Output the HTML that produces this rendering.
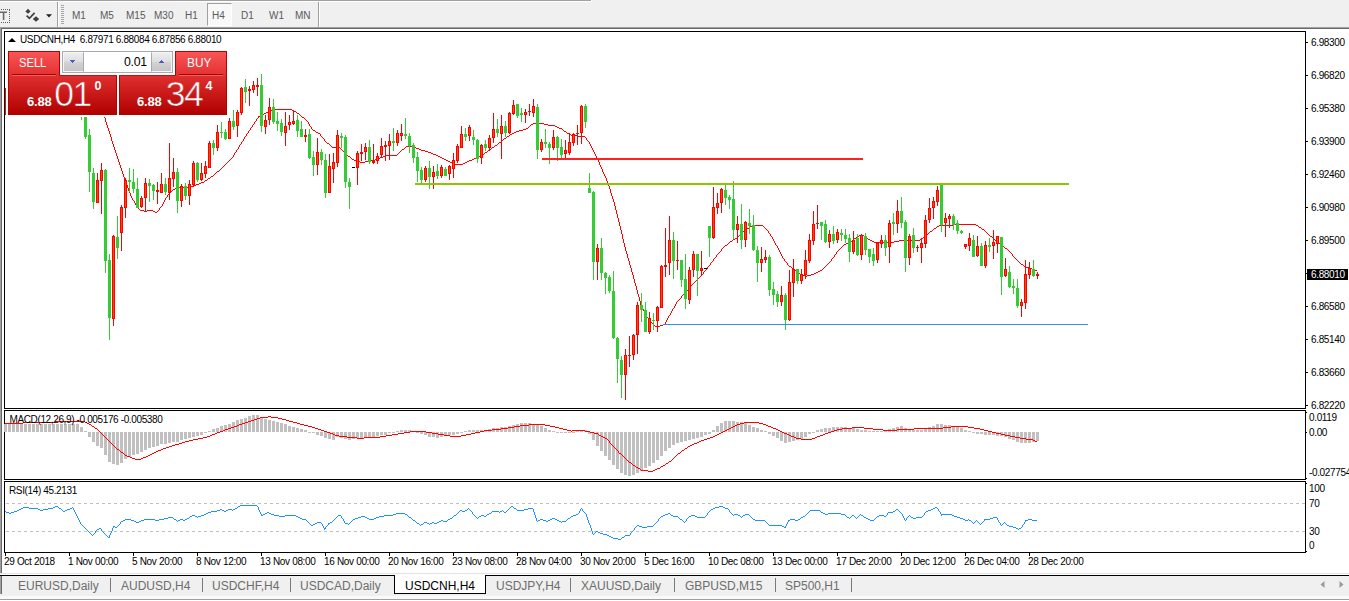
<!DOCTYPE html>
<html><head><meta charset="utf-8"><title>USDCNH,H4</title>
<style>
html,body{margin:0;padding:0;background:#fff;}
body{width:1349px;height:601px;position:relative;overflow:hidden;font-family:"Liberation Sans",sans-serif;}
div{position:absolute;box-sizing:border-box;}
.tf{top:9px;font-size:10px;color:#5a5a5a;line-height:13px;}
.yl{left:1311px;font-size:10px;line-height:12px;color:#000;white-space:nowrap;letter-spacing:-0.35px}
.yl2{left:1309px;font-size:10px;line-height:12px;color:#000;white-space:nowrap;letter-spacing:-0.35px}
.tk{left:1306px;width:2px;height:1px;background:#000}
.tk.s{width:1px}
.dt{top:553px;width:1px;height:3px;background:#000}
.dlab{top:556px;font-size:10px;line-height:12px;color:#000;white-space:nowrap;letter-spacing:-0.33px}
.tab{top:579px;font-size:12px;line-height:14px;color:#6d6d6d;white-space:nowrap}
.tsep{top:578px;width:1px;height:14px;background:#7a7a7a}
.lab{font-size:10px;line-height:12px;color:#000;white-space:nowrap;letter-spacing:-0.37px}
</style></head><body>
<!-- toolbar -->
<div style="left:0;top:0;width:1349px;height:27px;background:#f0f0f0"></div>
<div style="left:0;top:0;width:592px;height:2px;background:#fff"></div>
<div style="left:0;top:0;width:591px;height:1px;background:#a0a0a0"></div>
<div style="left:0;top:27px;width:1349px;height:1px;background:#a0a0a0"></div>
<div style="left:0;top:28px;width:1349px;height:1px;background:#696969"></div>
<div style="left:0;top:28px;width:1px;height:545px;background:#a0a0a0"></div>
<div style="left:1px;top:29px;width:1px;height:544px;background:#696969"></div>
<!-- toolbar icons -->
<div style="left:-1px;top:9px;width:11px;height:14px;border:1px dotted #606060"></div>
<svg style="position:absolute;left:0;top:11px" width="8" height="10" viewBox="0 0 8 10"><path d="M0 0.5H7V2H4.4V9H2.8V2H0Z" fill="#686868"/></svg>
<svg style="position:absolute;left:24px;top:8px" width="30" height="16" viewBox="0 0 30 16">
<path d="M4 0.8 L6.6 3.4 L4 5.8 L1.4 3.4Z" fill="#404040"/><path d="M12 8.2 L15.2 11 L12 13.8 L8.8 11Z" fill="#404040"/>
<path d="M2.6 7.6 L5.4 10.4 L10.6 4.8" fill="none" stroke="#404040" stroke-width="1.7"/>
<path d="M22 6.3 L28 6.3 L25 9.6Z" fill="#202020"/></svg>
<div style="left:57px;top:2px;width:1px;height:25px;background:#a0a0a0"></div>
<div style="left:58px;top:2px;width:1px;height:25px;background:#fff"></div>
<div style="left:61px;top:5px;width:3px;height:20px;background:repeating-linear-gradient(#a8a8a8 0 1px,#f0f0f0 1px 2px)"></div>
<div style="left:207px;top:3px;width:25px;height:23px;background:#f8f8f8;border:1px solid #a0a0a0;border-right-color:#fff;border-bottom-color:#fff"></div>
<div class="tf" style="left:72px">M1</div><div class="tf" style="left:100px">M5</div><div class="tf" style="left:126px">M15</div><div class="tf" style="left:154px">M30</div><div class="tf" style="left:185px">H1</div><div class="tf" style="left:212px">H4</div><div class="tf" style="left:241px">D1</div><div class="tf" style="left:269px">W1</div><div class="tf" style="left:295px">MN</div>
<div style="left:318px;top:2px;width:1px;height:25px;background:#a0a0a0"></div>
<div style="left:319px;top:2px;width:1px;height:25px;background:#fff"></div>

<!-- chart frames -->
<div style="left:4px;top:31px;width:1302px;height:378px;border:1px solid #000"></div>
<div style="left:4px;top:410px;width:1302px;height:70px;border:1px solid #000"></div>
<div style="left:4px;top:481px;width:1302px;height:72px;border:1px solid #000"></div>

<svg style="position:absolute;left:0;top:0" width="1349" height="601" viewBox="0 0 1349 601" shape-rendering="crispEdges">
<g shape-rendering="crispEdges"><path d="M104 117h1v1h-1zM105 118h1v4h-1zM106 122h1v3h-1zM107 125h1v3h-1zM108 128h1v3h-1zM109 131h1v3h-1zM110 134h1v3h-1zM111 137h1v4h-1zM112 141h1v3h-1zM113 144h1v3h-1zM114 147h1v3h-1zM115 150h1v3h-1zM116 153h1v3h-1zM117 156h1v3h-1zM118 159h1v3h-1zM119 162h1v3h-1zM120 165h1v3h-1zM121 168h1v3h-1zM122 171h1v3h-1zM123 174h1v3h-1zM124 177h1v3h-1zM125 180h1v2h-1zM126 182h1v3h-1zM127 185h1v3h-1zM128 188h1v3h-1zM129 191h1v2h-1zM130 193h1v3h-1zM131 196h1v2h-1zM132 198h1v2h-1zM133 200h1v1h-1zM134 201h1v2h-1zM135 203h1v2h-1zM136 205h1v2h-1zM137 207h1v1h-1zM138 208h1v1h-1zM139 209h1v1h-1zM140 210h4v1h-4zM144 211h3v1h-3zM147 210h6v1h-6zM153 211h2v1h-2zM155 212h2v1h-2zM157 211h1v1h-1zM158 210h1v1h-1zM159 208h1v2h-1zM160 207h1v1h-1zM161 206h1v1h-1zM162 204h1v2h-1zM163 202h1v2h-1zM164 200h1v2h-1zM165 198h1v2h-1zM166 197h1v1h-1zM167 195h1v2h-1zM168 194h1v1h-1zM169 193h1v1h-1zM170 192h1v1h-1zM171 191h1v1h-1zM172 190h1v1h-1zM173 189h2v1h-2zM175 188h3v1h-3zM178 187h13v1h-13zM191 186h3v1h-3zM194 185h2v1h-2zM196 184h3v1h-3zM199 183h2v1h-2zM201 182h3v1h-3zM204 181h1v1h-1zM205 180h2v1h-2zM207 179h1v1h-1zM208 178h2v1h-2zM210 177h1v1h-1zM211 176h2v1h-2zM213 175h1v1h-1zM214 174h1v1h-1zM215 173h1v1h-1zM216 172h1v1h-1zM217 171h2v1h-2zM219 170h1v1h-1zM220 169h1v1h-1zM221 168h1v1h-1zM222 167h1v1h-1zM223 166h1v1h-1zM224 165h1v1h-1zM225 164h1v1h-1zM226 163h1v1h-1zM227 162h1v1h-1zM228 161h1v1h-1zM229 160h1v1h-1zM230 159h1v1h-1zM231 158h1v1h-1zM232 157h1v1h-1zM233 155h1v2h-1zM234 153h1v2h-1zM235 152h1v1h-1zM236 150h1v2h-1zM237 149h1v1h-1zM238 147h1v2h-1zM239 145h1v2h-1zM240 144h1v1h-1zM241 142h1v2h-1zM242 141h1v1h-1zM243 139h1v2h-1zM244 137h1v2h-1zM245 136h1v1h-1zM246 134h1v2h-1zM247 133h1v1h-1zM248 131h1v2h-1zM249 130h1v1h-1zM250 128h1v2h-1zM251 127h1v1h-1zM252 125h1v2h-1zM253 124h1v1h-1zM254 122h1v2h-1zM255 121h1v1h-1zM256 119h1v2h-1zM257 118h1v1h-1zM258 116h1v2h-1zM259 116h1v1h-1zM260 115h2v1h-2zM262 114h2v1h-2zM264 113h2v1h-2zM266 112h3v1h-3zM269 111h2v1h-2zM271 110h2v1h-2zM273 109h19v1h-19zM292 110h2v1h-2zM294 111h2v1h-2zM296 112h1v1h-1zM297 113h2v1h-2zM299 114h1v1h-1zM300 115h1v1h-1zM301 116h1v1h-1zM302 117h2v1h-2zM304 118h1v1h-1zM305 119h1v1h-1zM306 120h1v1h-1zM307 121h1v1h-1zM308 122h1v2h-1zM309 124h1v2h-1zM310 126h1v1h-1zM311 127h1v2h-1zM312 129h1v1h-1zM313 130h2v1h-2zM315 131h1v1h-1zM316 132h2v1h-2zM318 133h2v1h-2zM320 134h1v2h-1zM321 136h1v1h-1zM322 137h1v1h-1zM323 138h1v1h-1zM324 139h1v2h-1zM325 141h1v1h-1zM326 142h1v1h-1zM327 143h2v1h-2zM329 144h1v1h-1zM330 145h1v1h-1zM331 146h1v1h-1zM332 147h8v1h-8zM340 148h1v1h-1zM341 149h1v1h-1zM342 150h1v1h-1zM343 151h1v1h-1zM344 152h1v1h-1zM345 153h1v1h-1zM346 154h1v1h-1zM347 155h1v1h-1zM348 156h2v1h-2zM350 157h1v1h-1zM351 158h1v1h-1zM352 159h2v1h-2zM354 160h3v1h-3zM357 161h3v1h-3zM360 162h5v1h-5zM365 161h6v1h-6zM371 160h4v1h-4zM375 159h3v1h-3zM378 158h2v1h-2zM380 157h3v1h-3zM383 156h3v1h-3zM386 155h11v1h-11zM397 154h1v1h-1zM398 153h1v1h-1zM399 152h1v1h-1zM400 151h1v1h-1zM401 150h1v1h-1zM402 149h2v1h-2zM404 148h1v1h-1zM405 147h1v1h-1zM406 146h7v1h-7zM413 147h3v1h-3zM416 148h3v1h-3zM419 149h2v1h-2zM421 150h4v1h-4zM425 151h3v1h-3zM428 152h3v1h-3zM431 153h2v1h-2zM433 154h3v1h-3zM436 155h2v1h-2zM438 156h2v1h-2zM440 157h2v1h-2zM442 158h2v1h-2zM444 159h2v1h-2zM446 160h2v1h-2zM448 161h2v1h-2zM450 162h3v1h-3zM453 163h2v1h-2zM455 164h8v1h-8zM463 163h2v1h-2zM465 162h2v1h-2zM467 161h2v1h-2zM469 160h3v1h-3zM472 159h2v1h-2zM474 158h3v1h-3zM477 157h2v1h-2zM479 156h1v1h-1zM480 155h2v1h-2zM482 154h2v1h-2zM484 153h1v1h-1zM485 152h2v1h-2zM487 151h1v1h-1zM488 150h2v1h-2zM490 149h1v1h-1zM491 148h1v1h-1zM492 147h2v1h-2zM494 146h1v1h-1zM495 145h2v1h-2zM497 144h1v1h-1zM498 143h1v1h-1zM499 142h2v1h-2zM501 141h1v1h-1zM502 140h1v1h-1zM503 139h1v1h-1zM504 138h2v1h-2zM506 137h1v1h-1zM507 136h2v1h-2zM509 135h1v1h-1zM510 134h2v1h-2zM512 133h2v1h-2zM514 132h2v1h-2zM516 131h3v1h-3zM519 130h4v1h-4zM523 129h3v1h-3zM526 128h2v1h-2zM528 127h1v1h-1zM529 126h1v1h-1zM530 125h1v1h-1zM531 124h2v1h-2zM533 123h11v1h-11zM544 124h4v1h-4zM548 125h7v1h-7zM555 126h2v1h-2zM557 127h2v1h-2zM559 128h3v1h-3zM562 129h1v1h-1zM563 130h1v1h-1zM564 131h2v1h-2zM566 132h1v1h-1zM567 133h2v1h-2zM569 134h2v1h-2zM571 135h6v1h-6zM577 136h8v1h-8zM585 137h1v1h-1zM586 138h1v2h-1zM587 140h1v1h-1zM588 141h1v1h-1zM589 142h1v2h-1zM590 144h1v2h-1zM591 146h1v2h-1zM592 148h1v2h-1zM593 150h1v2h-1zM594 152h1v2h-1zM595 154h1v2h-1zM596 156h1v2h-1zM597 158h1v2h-1zM598 160h1v2h-1zM599 162h1v3h-1zM600 165h1v2h-1zM601 167h1v2h-1zM602 169h1v3h-1zM603 172h1v2h-1zM604 174h1v2h-1zM605 176h1v2h-1zM606 178h1v3h-1zM607 181h1v2h-1zM608 183h1v3h-1zM609 186h1v3h-1zM610 189h1v4h-1zM611 193h1v3h-1zM612 196h1v3h-1zM613 199h1v3h-1zM614 202h1v4h-1zM615 206h1v4h-1zM616 210h1v4h-1zM617 214h1v4h-1zM618 218h1v4h-1zM619 222h1v4h-1zM620 226h1v4h-1zM621 230h1v4h-1zM622 234h1v5h-1zM623 239h1v4h-1zM624 243h1v4h-1zM625 247h1v4h-1zM626 251h1v3h-1zM627 254h1v4h-1zM628 258h1v3h-1zM629 261h1v4h-1zM630 265h1v3h-1zM631 268h1v4h-1zM632 272h1v3h-1zM633 275h1v4h-1zM634 279h1v4h-1zM635 283h1v3h-1zM636 286h1v4h-1zM637 290h1v4h-1zM638 294h1v3h-1zM639 297h1v4h-1zM640 301h1v4h-1zM641 305h1v3h-1zM642 308h1v1h-1zM643 309h1v2h-1zM644 311h1v2h-1zM645 313h1v2h-1zM646 315h1v2h-1zM647 317h1v1h-1zM648 318h1v2h-1zM649 320h1v1h-1zM650 321h1v1h-1zM651 322h1v1h-1zM652 323h1v1h-1zM653 324h1v1h-1zM654 325h1v1h-1zM655 326h5v1h-5zM660 325h3v1h-3zM663 324h2v1h-2zM665 322h1v2h-1zM666 320h1v2h-1zM667 318h1v2h-1zM668 316h1v2h-1zM669 315h1v1h-1zM670 313h1v2h-1zM671 311h1v2h-1zM672 309h1v2h-1zM673 308h1v1h-1zM674 306h1v2h-1zM675 304h1v2h-1zM676 302h1v2h-1zM677 301h1v1h-1zM678 300h1v1h-1zM679 299h1v1h-1zM680 298h1v1h-1zM681 296h1v2h-1zM682 295h1v1h-1zM683 294h1v1h-1zM684 293h1v1h-1zM685 292h1v1h-1zM686 291h1v1h-1zM687 290h1v1h-1zM688 288h1v2h-1zM689 287h1v1h-1zM690 286h1v1h-1zM691 285h1v1h-1zM692 284h1v1h-1zM693 283h1v1h-1zM694 282h1v1h-1zM695 281h1v1h-1zM696 280h1v1h-1zM697 279h1v1h-1zM698 278h1v1h-1zM699 277h1v1h-1zM700 276h1v1h-1zM701 275h1v1h-1zM702 274h1v1h-1zM703 272h1v2h-1zM704 271h1v1h-1zM705 270h1v1h-1zM706 269h1v1h-1zM707 267h1v2h-1zM708 266h1v1h-1zM709 265h1v1h-1zM710 263h1v2h-1zM711 262h1v1h-1zM712 261h1v1h-1zM713 259h1v2h-1zM714 258h1v1h-1zM715 257h1v1h-1zM716 255h1v2h-1zM717 254h1v1h-1zM718 253h1v1h-1zM719 252h1v1h-1zM720 251h1v1h-1zM721 249h1v2h-1zM722 248h1v1h-1zM723 247h1v1h-1zM724 246h1v1h-1zM725 245h2v1h-2zM727 244h1v1h-1zM728 243h1v1h-1zM729 242h1v1h-1zM730 241h2v1h-2zM732 240h1v1h-1zM733 239h2v1h-2zM735 238h2v1h-2zM737 237h1v1h-1zM738 236h1v1h-1zM739 235h1v1h-1zM740 234h1v1h-1zM741 233h1v1h-1zM742 232h1v1h-1zM743 231h1v1h-1zM744 230h2v1h-2zM746 229h1v1h-1zM747 228h2v1h-2zM749 227h1v1h-1zM750 226h2v1h-2zM752 225h11v1h-11zM763 226h1v1h-1zM764 227h1v1h-1zM765 228h1v1h-1zM766 229h1v1h-1zM767 230h1v1h-1zM768 231h1v2h-1zM769 233h1v1h-1zM770 234h1v2h-1zM771 236h1v1h-1zM772 237h1v2h-1zM773 239h1v2h-1zM774 241h1v2h-1zM775 243h1v2h-1zM776 245h1v1h-1zM777 246h1v2h-1zM778 248h1v2h-1zM779 250h1v2h-1zM780 252h1v2h-1zM781 254h1v2h-1zM782 256h1v2h-1zM783 258h1v1h-1zM784 259h1v2h-1zM785 261h1v1h-1zM786 262h1v1h-1zM787 263h1v2h-1zM788 265h1v1h-1zM789 266h2v1h-2zM791 267h1v1h-1zM792 268h2v1h-2zM794 269h1v1h-1zM795 270h1v1h-1zM796 271h2v1h-2zM798 272h1v1h-1zM799 273h1v1h-1zM800 274h2v1h-2zM802 275h4v1h-4zM806 276h1v1h-1zM807 275h4v1h-4zM811 274h3v1h-3zM814 273h2v1h-2zM816 272h2v1h-2zM818 271h2v1h-2zM820 270h2v1h-2zM822 269h1v1h-1zM823 268h1v1h-1zM824 267h1v1h-1zM825 266h1v1h-1zM826 265h1v1h-1zM827 264h1v1h-1zM828 263h1v1h-1zM829 262h1v1h-1zM830 261h1v1h-1zM831 259h1v2h-1zM832 258h1v1h-1zM833 257h1v1h-1zM834 255h1v2h-1zM835 254h1v1h-1zM836 252h1v2h-1zM837 251h1v1h-1zM838 250h1v1h-1zM839 249h1v1h-1zM840 248h1v1h-1zM841 247h1v1h-1zM842 246h1v1h-1zM843 245h1v1h-1zM844 244h2v1h-2zM846 243h2v1h-2zM848 242h2v1h-2zM850 241h2v1h-2zM852 240h1v1h-1zM853 239h1v1h-1zM854 238h2v1h-2zM856 237h1v1h-1zM857 236h2v1h-2zM859 235h2v1h-2zM861 234h1v1h-1zM862 235h2v1h-2zM864 236h1v1h-1zM865 237h2v1h-2zM867 238h1v1h-1zM868 239h2v1h-2zM870 240h2v1h-2zM872 241h2v1h-2zM874 242h20v1h-20zM894 241h5v1h-5zM899 240h21v1h-21zM920 239h1v1h-1zM921 238h2v1h-2zM923 237h2v1h-2zM925 236h1v1h-1zM926 235h1v1h-1zM927 234h1v1h-1zM928 233h1v1h-1zM929 232h1v1h-1zM930 231h2v1h-2zM932 230h1v1h-1zM933 229h1v1h-1zM934 228h2v1h-2zM936 227h1v1h-1zM937 226h2v1h-2zM939 225h14v1h-14zM953 224h23v1h-23zM976 225h2v1h-2zM978 226h1v1h-1zM979 227h2v1h-2zM981 228h1v1h-1zM982 229h2v1h-2zM984 230h1v1h-1zM985 231h1v1h-1zM986 232h1v1h-1zM987 233h1v1h-1zM988 234h1v1h-1zM989 235h1v1h-1zM990 236h2v1h-2zM992 237h1v1h-1zM993 238h1v1h-1zM994 239h1v1h-1zM995 240h1v1h-1zM996 241h2v1h-2zM998 242h1v1h-1zM999 243h2v1h-2zM1001 244h1v1h-1zM1002 245h1v1h-1zM1003 246h1v1h-1zM1004 247h1v1h-1zM1005 248h2v1h-2zM1007 249h1v1h-1zM1008 250h1v1h-1zM1009 251h1v1h-1zM1010 252h1v1h-1zM1011 253h1v1h-1zM1012 254h1v2h-1zM1013 256h1v1h-1zM1014 257h1v1h-1zM1015 258h1v1h-1zM1016 259h1v1h-1zM1017 260h1v1h-1zM1018 261h1v1h-1zM1019 262h1v1h-1zM1020 263h1v1h-1zM1021 264h2v1h-2zM1023 265h1v1h-1zM1024 266h2v1h-2zM1026 267h3v1h-3zM1029 268h3v1h-3zM1032 269h3v1h-3zM1035 270h2v1h-2z" fill="#ff0000"/></g>
<rect x="81" y="100" width="1" height="20" fill="#32cd32"/>
<rect x="80" y="100" width="3" height="10" fill="#32cd32"/>
<rect x="85" y="100" width="1" height="39" fill="#32cd32"/>
<rect x="84" y="100" width="3" height="37" fill="#32cd32"/>
<rect x="89" y="129" width="1" height="63" fill="#32cd32"/>
<rect x="88" y="135" width="3" height="37" fill="#32cd32"/>
<rect x="93" y="168" width="1" height="41" fill="#32cd32"/>
<rect x="92" y="173" width="3" height="29" fill="#32cd32"/>
<rect x="97" y="173" width="1" height="30" fill="#ff0000"/>
<rect x="96" y="180" width="3" height="23" fill="#ff0000"/>
<rect x="97" y="181" width="1" height="21" fill="#ff4500"/>
<rect x="101" y="163" width="1" height="51" fill="#ff0000"/>
<rect x="100" y="170" width="3" height="11" fill="#ff0000"/>
<rect x="101" y="171" width="1" height="9" fill="#ff4500"/>
<rect x="105" y="169" width="1" height="104" fill="#32cd32"/>
<rect x="104" y="170" width="3" height="91" fill="#32cd32"/>
<rect x="109" y="254" width="1" height="86" fill="#32cd32"/>
<rect x="108" y="260" width="3" height="58" fill="#32cd32"/>
<rect x="113" y="235" width="1" height="91" fill="#ff0000"/>
<rect x="112" y="236" width="3" height="83" fill="#ff0000"/>
<rect x="113" y="237" width="1" height="81" fill="#ff4500"/>
<rect x="117" y="216" width="1" height="43" fill="#32cd32"/>
<rect x="116" y="237" width="3" height="11" fill="#32cd32"/>
<rect x="121" y="205" width="1" height="46" fill="#ff0000"/>
<rect x="120" y="207" width="3" height="26" fill="#ff0000"/>
<rect x="121" y="208" width="1" height="24" fill="#ff4500"/>
<rect x="125" y="178" width="1" height="40" fill="#ff0000"/>
<rect x="124" y="180" width="3" height="28" fill="#ff0000"/>
<rect x="125" y="181" width="1" height="26" fill="#ff4500"/>
<rect x="129" y="168" width="1" height="24" fill="#32cd32"/>
<rect x="128" y="180" width="3" height="2" fill="#32cd32"/>
<rect x="133" y="169" width="1" height="24" fill="#32cd32"/>
<rect x="132" y="182" width="3" height="7" fill="#32cd32"/>
<rect x="137" y="178" width="1" height="30" fill="#32cd32"/>
<rect x="136" y="189" width="3" height="19" fill="#32cd32"/>
<rect x="141" y="196" width="1" height="12" fill="#ff0000"/>
<rect x="140" y="198" width="3" height="9" fill="#ff0000"/>
<rect x="141" y="199" width="1" height="7" fill="#ff4500"/>
<rect x="145" y="178" width="1" height="34" fill="#ff0000"/>
<rect x="144" y="183" width="3" height="15" fill="#ff0000"/>
<rect x="145" y="184" width="1" height="13" fill="#ff4500"/>
<rect x="149" y="179" width="1" height="23" fill="#32cd32"/>
<rect x="148" y="183" width="3" height="3" fill="#32cd32"/>
<rect x="153" y="184" width="1" height="16" fill="#32cd32"/>
<rect x="152" y="185" width="3" height="6" fill="#32cd32"/>
<rect x="157" y="182" width="1" height="22" fill="#ff0000"/>
<rect x="156" y="190" width="3" height="2" fill="#ff0000"/>
<rect x="161" y="173" width="1" height="20" fill="#ff0000"/>
<rect x="160" y="184" width="3" height="9" fill="#ff0000"/>
<rect x="161" y="185" width="1" height="7" fill="#ff4500"/>
<rect x="165" y="178" width="1" height="17" fill="#32cd32"/>
<rect x="164" y="184" width="3" height="8" fill="#32cd32"/>
<rect x="169" y="143" width="1" height="57" fill="#ff0000"/>
<rect x="168" y="178" width="3" height="15" fill="#ff0000"/>
<rect x="169" y="179" width="1" height="13" fill="#ff4500"/>
<rect x="173" y="158" width="1" height="29" fill="#ff0000"/>
<rect x="172" y="172" width="3" height="7" fill="#ff0000"/>
<rect x="173" y="173" width="1" height="5" fill="#ff4500"/>
<rect x="177" y="168" width="1" height="45" fill="#32cd32"/>
<rect x="176" y="172" width="3" height="29" fill="#32cd32"/>
<rect x="181" y="184" width="1" height="23" fill="#ff0000"/>
<rect x="180" y="186" width="3" height="15" fill="#ff0000"/>
<rect x="181" y="187" width="1" height="13" fill="#ff4500"/>
<rect x="185" y="183" width="1" height="17" fill="#32cd32"/>
<rect x="184" y="186" width="3" height="10" fill="#32cd32"/>
<rect x="189" y="180" width="1" height="25" fill="#ff0000"/>
<rect x="188" y="184" width="3" height="12" fill="#ff0000"/>
<rect x="189" y="185" width="1" height="10" fill="#ff4500"/>
<rect x="193" y="161" width="1" height="26" fill="#ff0000"/>
<rect x="192" y="163" width="3" height="22" fill="#ff0000"/>
<rect x="193" y="164" width="1" height="20" fill="#ff4500"/>
<rect x="197" y="162" width="1" height="20" fill="#32cd32"/>
<rect x="196" y="163" width="3" height="17" fill="#32cd32"/>
<rect x="201" y="163" width="1" height="18" fill="#ff0000"/>
<rect x="200" y="173" width="3" height="7" fill="#ff0000"/>
<rect x="201" y="174" width="1" height="5" fill="#ff4500"/>
<rect x="205" y="161" width="1" height="17" fill="#ff0000"/>
<rect x="204" y="166" width="3" height="8" fill="#ff0000"/>
<rect x="205" y="167" width="1" height="6" fill="#ff4500"/>
<rect x="209" y="141" width="1" height="27" fill="#ff0000"/>
<rect x="208" y="143" width="3" height="25" fill="#ff0000"/>
<rect x="209" y="144" width="1" height="23" fill="#ff4500"/>
<rect x="213" y="140" width="1" height="15" fill="#32cd32"/>
<rect x="212" y="143" width="3" height="5" fill="#32cd32"/>
<rect x="217" y="125" width="1" height="26" fill="#ff0000"/>
<rect x="216" y="132" width="3" height="16" fill="#ff0000"/>
<rect x="217" y="133" width="1" height="14" fill="#ff4500"/>
<rect x="221" y="122" width="1" height="16" fill="#32cd32"/>
<rect x="220" y="132" width="3" height="1" fill="#32cd32"/>
<rect x="225" y="129" width="1" height="11" fill="#32cd32"/>
<rect x="224" y="132" width="3" height="7" fill="#32cd32"/>
<rect x="229" y="118" width="1" height="21" fill="#ff0000"/>
<rect x="228" y="121" width="3" height="18" fill="#ff0000"/>
<rect x="229" y="122" width="1" height="16" fill="#ff4500"/>
<rect x="233" y="110" width="1" height="20" fill="#32cd32"/>
<rect x="232" y="121" width="3" height="6" fill="#32cd32"/>
<rect x="237" y="110" width="1" height="27" fill="#ff0000"/>
<rect x="236" y="112" width="3" height="14" fill="#ff0000"/>
<rect x="237" y="113" width="1" height="12" fill="#ff4500"/>
<rect x="241" y="87" width="1" height="28" fill="#ff0000"/>
<rect x="240" y="88" width="3" height="25" fill="#ff0000"/>
<rect x="241" y="89" width="1" height="23" fill="#ff4500"/>
<rect x="245" y="79" width="1" height="24" fill="#32cd32"/>
<rect x="244" y="87" width="3" height="5" fill="#32cd32"/>
<rect x="249" y="86" width="1" height="20" fill="#ff0000"/>
<rect x="248" y="89" width="3" height="2" fill="#ff0000"/>
<rect x="253" y="81" width="1" height="12" fill="#ff0000"/>
<rect x="252" y="85" width="3" height="5" fill="#ff0000"/>
<rect x="253" y="86" width="1" height="3" fill="#ff4500"/>
<rect x="257" y="78" width="1" height="18" fill="#ff0000"/>
<rect x="256" y="85" width="3" height="2" fill="#ff0000"/>
<rect x="261" y="74" width="1" height="58" fill="#32cd32"/>
<rect x="260" y="85" width="3" height="41" fill="#32cd32"/>
<rect x="265" y="115" width="1" height="19" fill="#ff0000"/>
<rect x="264" y="120" width="3" height="7" fill="#ff0000"/>
<rect x="265" y="121" width="1" height="5" fill="#ff4500"/>
<rect x="269" y="98" width="1" height="27" fill="#ff0000"/>
<rect x="268" y="107" width="3" height="13" fill="#ff0000"/>
<rect x="269" y="108" width="1" height="11" fill="#ff4500"/>
<rect x="273" y="99" width="1" height="25" fill="#32cd32"/>
<rect x="272" y="107" width="3" height="15" fill="#32cd32"/>
<rect x="277" y="112" width="1" height="19" fill="#32cd32"/>
<rect x="276" y="121" width="3" height="3" fill="#32cd32"/>
<rect x="281" y="119" width="1" height="17" fill="#32cd32"/>
<rect x="280" y="123" width="3" height="9" fill="#32cd32"/>
<rect x="285" y="112" width="1" height="34" fill="#ff0000"/>
<rect x="284" y="126" width="3" height="7" fill="#ff0000"/>
<rect x="285" y="127" width="1" height="5" fill="#ff4500"/>
<rect x="289" y="115" width="1" height="15" fill="#ff0000"/>
<rect x="288" y="122" width="3" height="3" fill="#ff0000"/>
<rect x="289" y="123" width="1" height="1" fill="#ff4500"/>
<rect x="293" y="110" width="1" height="15" fill="#ff0000"/>
<rect x="292" y="121" width="3" height="3" fill="#ff0000"/>
<rect x="293" y="122" width="1" height="1" fill="#ff4500"/>
<rect x="297" y="115" width="1" height="22" fill="#32cd32"/>
<rect x="296" y="120" width="3" height="11" fill="#32cd32"/>
<rect x="301" y="121" width="1" height="16" fill="#32cd32"/>
<rect x="300" y="129" width="3" height="8" fill="#32cd32"/>
<rect x="305" y="129" width="1" height="13" fill="#ff0000"/>
<rect x="304" y="135" width="3" height="2" fill="#ff0000"/>
<rect x="309" y="129" width="1" height="30" fill="#32cd32"/>
<rect x="308" y="134" width="3" height="24" fill="#32cd32"/>
<rect x="313" y="151" width="1" height="25" fill="#32cd32"/>
<rect x="312" y="157" width="3" height="8" fill="#32cd32"/>
<rect x="317" y="138" width="1" height="37" fill="#ff0000"/>
<rect x="316" y="152" width="3" height="13" fill="#ff0000"/>
<rect x="317" y="153" width="1" height="11" fill="#ff4500"/>
<rect x="321" y="149" width="1" height="16" fill="#32cd32"/>
<rect x="320" y="152" width="3" height="8" fill="#32cd32"/>
<rect x="325" y="154" width="1" height="44" fill="#32cd32"/>
<rect x="324" y="160" width="3" height="33" fill="#32cd32"/>
<rect x="329" y="154" width="1" height="39" fill="#ff0000"/>
<rect x="328" y="166" width="3" height="27" fill="#ff0000"/>
<rect x="329" y="167" width="1" height="25" fill="#ff4500"/>
<rect x="333" y="153" width="1" height="30" fill="#ff0000"/>
<rect x="332" y="162" width="3" height="7" fill="#ff0000"/>
<rect x="333" y="163" width="1" height="5" fill="#ff4500"/>
<rect x="337" y="130" width="1" height="37" fill="#ff0000"/>
<rect x="336" y="135" width="3" height="28" fill="#ff0000"/>
<rect x="337" y="136" width="1" height="26" fill="#ff4500"/>
<rect x="341" y="133" width="1" height="15" fill="#32cd32"/>
<rect x="340" y="136" width="3" height="2" fill="#32cd32"/>
<rect x="345" y="135" width="1" height="53" fill="#32cd32"/>
<rect x="344" y="137" width="3" height="45" fill="#32cd32"/>
<rect x="349" y="178" width="1" height="31" fill="#32cd32"/>
<rect x="348" y="182" width="3" height="5" fill="#32cd32"/>
<rect x="352" y="167" width="3" height="1" fill="#000"/>
<rect x="357" y="151" width="1" height="34" fill="#ff0000"/>
<rect x="356" y="153" width="3" height="15" fill="#ff0000"/>
<rect x="357" y="154" width="1" height="13" fill="#ff4500"/>
<rect x="361" y="144" width="1" height="17" fill="#ff0000"/>
<rect x="360" y="152" width="3" height="2" fill="#ff0000"/>
<rect x="365" y="143" width="1" height="17" fill="#ff0000"/>
<rect x="364" y="147" width="3" height="5" fill="#ff0000"/>
<rect x="365" y="148" width="1" height="3" fill="#ff4500"/>
<rect x="369" y="140" width="1" height="24" fill="#32cd32"/>
<rect x="368" y="147" width="3" height="15" fill="#32cd32"/>
<rect x="373" y="144" width="1" height="20" fill="#ff0000"/>
<rect x="372" y="161" width="3" height="2" fill="#ff0000"/>
<rect x="377" y="153" width="1" height="11" fill="#ff0000"/>
<rect x="376" y="156" width="3" height="5" fill="#ff0000"/>
<rect x="377" y="157" width="1" height="3" fill="#ff4500"/>
<rect x="381" y="138" width="1" height="20" fill="#ff0000"/>
<rect x="380" y="146" width="3" height="9" fill="#ff0000"/>
<rect x="381" y="147" width="1" height="7" fill="#ff4500"/>
<rect x="385" y="141" width="1" height="20" fill="#ff0000"/>
<rect x="384" y="145" width="3" height="2" fill="#ff0000"/>
<rect x="389" y="134" width="1" height="26" fill="#ff0000"/>
<rect x="388" y="141" width="3" height="5" fill="#ff0000"/>
<rect x="389" y="142" width="1" height="3" fill="#ff4500"/>
<rect x="393" y="128" width="1" height="23" fill="#32cd32"/>
<rect x="392" y="141" width="3" height="2" fill="#32cd32"/>
<rect x="397" y="130" width="1" height="16" fill="#ff0000"/>
<rect x="396" y="133" width="3" height="10" fill="#ff0000"/>
<rect x="397" y="134" width="1" height="8" fill="#ff4500"/>
<rect x="401" y="124" width="1" height="17" fill="#ff0000"/>
<rect x="400" y="133" width="3" height="3" fill="#ff0000"/>
<rect x="401" y="134" width="1" height="1" fill="#ff4500"/>
<rect x="405" y="118" width="1" height="21" fill="#32cd32"/>
<rect x="404" y="134" width="3" height="2" fill="#32cd32"/>
<rect x="409" y="133" width="1" height="20" fill="#32cd32"/>
<rect x="408" y="136" width="3" height="10" fill="#32cd32"/>
<rect x="413" y="143" width="1" height="20" fill="#32cd32"/>
<rect x="412" y="145" width="3" height="13" fill="#32cd32"/>
<rect x="417" y="152" width="1" height="30" fill="#32cd32"/>
<rect x="416" y="157" width="3" height="14" fill="#32cd32"/>
<rect x="421" y="167" width="1" height="16" fill="#32cd32"/>
<rect x="420" y="170" width="3" height="10" fill="#32cd32"/>
<rect x="425" y="166" width="1" height="16" fill="#ff0000"/>
<rect x="424" y="168" width="3" height="12" fill="#ff0000"/>
<rect x="425" y="169" width="1" height="10" fill="#ff4500"/>
<rect x="429" y="161" width="1" height="28" fill="#32cd32"/>
<rect x="428" y="168" width="3" height="9" fill="#32cd32"/>
<rect x="433" y="166" width="1" height="23" fill="#ff0000"/>
<rect x="432" y="172" width="3" height="5" fill="#ff0000"/>
<rect x="433" y="173" width="1" height="3" fill="#ff4500"/>
<rect x="437" y="164" width="1" height="15" fill="#32cd32"/>
<rect x="436" y="171" width="3" height="5" fill="#32cd32"/>
<rect x="441" y="165" width="1" height="13" fill="#ff0000"/>
<rect x="440" y="167" width="3" height="9" fill="#ff0000"/>
<rect x="441" y="168" width="1" height="7" fill="#ff4500"/>
<rect x="445" y="167" width="1" height="9" fill="#32cd32"/>
<rect x="444" y="169" width="3" height="7" fill="#32cd32"/>
<rect x="449" y="165" width="1" height="15" fill="#ff0000"/>
<rect x="448" y="166" width="3" height="8" fill="#ff0000"/>
<rect x="449" y="167" width="1" height="6" fill="#ff4500"/>
<rect x="453" y="153" width="1" height="25" fill="#ff0000"/>
<rect x="452" y="160" width="3" height="9" fill="#ff0000"/>
<rect x="453" y="161" width="1" height="7" fill="#ff4500"/>
<rect x="457" y="144" width="1" height="19" fill="#ff0000"/>
<rect x="456" y="146" width="3" height="15" fill="#ff0000"/>
<rect x="457" y="147" width="1" height="13" fill="#ff4500"/>
<rect x="461" y="126" width="1" height="22" fill="#ff0000"/>
<rect x="460" y="134" width="3" height="14" fill="#ff0000"/>
<rect x="461" y="135" width="1" height="12" fill="#ff4500"/>
<rect x="465" y="128" width="1" height="13" fill="#32cd32"/>
<rect x="464" y="134" width="3" height="3" fill="#32cd32"/>
<rect x="469" y="125" width="1" height="16" fill="#ff0000"/>
<rect x="468" y="127" width="3" height="9" fill="#ff0000"/>
<rect x="469" y="128" width="1" height="7" fill="#ff4500"/>
<rect x="473" y="130" width="1" height="15" fill="#32cd32"/>
<rect x="472" y="137" width="3" height="3" fill="#32cd32"/>
<rect x="477" y="139" width="1" height="24" fill="#32cd32"/>
<rect x="476" y="140" width="3" height="19" fill="#32cd32"/>
<rect x="481" y="144" width="1" height="20" fill="#ff0000"/>
<rect x="480" y="145" width="3" height="13" fill="#ff0000"/>
<rect x="481" y="146" width="1" height="11" fill="#ff4500"/>
<rect x="485" y="140" width="1" height="11" fill="#32cd32"/>
<rect x="484" y="144" width="3" height="4" fill="#32cd32"/>
<rect x="489" y="135" width="1" height="15" fill="#ff0000"/>
<rect x="488" y="138" width="3" height="10" fill="#ff0000"/>
<rect x="489" y="139" width="1" height="8" fill="#ff4500"/>
<rect x="493" y="113" width="1" height="30" fill="#ff0000"/>
<rect x="492" y="129" width="3" height="9" fill="#ff0000"/>
<rect x="493" y="130" width="1" height="7" fill="#ff4500"/>
<rect x="497" y="119" width="1" height="18" fill="#32cd32"/>
<rect x="496" y="129" width="3" height="4" fill="#32cd32"/>
<rect x="501" y="115" width="1" height="44" fill="#ff0000"/>
<rect x="500" y="126" width="3" height="8" fill="#ff0000"/>
<rect x="501" y="127" width="1" height="6" fill="#ff4500"/>
<rect x="505" y="121" width="1" height="16" fill="#32cd32"/>
<rect x="504" y="126" width="3" height="7" fill="#32cd32"/>
<rect x="509" y="112" width="1" height="22" fill="#ff0000"/>
<rect x="508" y="113" width="3" height="20" fill="#ff0000"/>
<rect x="509" y="114" width="1" height="18" fill="#ff4500"/>
<rect x="513" y="100" width="1" height="15" fill="#ff0000"/>
<rect x="512" y="105" width="3" height="9" fill="#ff0000"/>
<rect x="513" y="106" width="1" height="7" fill="#ff4500"/>
<rect x="517" y="104" width="1" height="14" fill="#32cd32"/>
<rect x="516" y="104" width="3" height="12" fill="#32cd32"/>
<rect x="521" y="108" width="1" height="14" fill="#32cd32"/>
<rect x="520" y="113" width="3" height="2" fill="#32cd32"/>
<rect x="525" y="109" width="1" height="14" fill="#ff0000"/>
<rect x="524" y="112" width="3" height="3" fill="#ff0000"/>
<rect x="525" y="113" width="1" height="1" fill="#ff4500"/>
<rect x="529" y="104" width="1" height="12" fill="#ff0000"/>
<rect x="528" y="111" width="3" height="1" fill="#ff0000"/>
<rect x="533" y="99" width="1" height="18" fill="#ff0000"/>
<rect x="532" y="106" width="3" height="7" fill="#ff0000"/>
<rect x="533" y="107" width="1" height="5" fill="#ff4500"/>
<rect x="537" y="104" width="1" height="55" fill="#32cd32"/>
<rect x="536" y="107" width="3" height="43" fill="#32cd32"/>
<rect x="541" y="139" width="1" height="13" fill="#ff0000"/>
<rect x="540" y="142" width="3" height="8" fill="#ff0000"/>
<rect x="541" y="143" width="1" height="6" fill="#ff4500"/>
<rect x="545" y="129" width="1" height="19" fill="#32cd32"/>
<rect x="544" y="142" width="3" height="2" fill="#32cd32"/>
<rect x="549" y="142" width="1" height="22" fill="#32cd32"/>
<rect x="548" y="144" width="3" height="4" fill="#32cd32"/>
<rect x="553" y="130" width="1" height="20" fill="#ff0000"/>
<rect x="552" y="137" width="3" height="11" fill="#ff0000"/>
<rect x="553" y="138" width="1" height="9" fill="#ff4500"/>
<rect x="557" y="136" width="1" height="25" fill="#32cd32"/>
<rect x="556" y="137" width="3" height="11" fill="#32cd32"/>
<rect x="561" y="139" width="1" height="19" fill="#32cd32"/>
<rect x="560" y="147" width="3" height="8" fill="#32cd32"/>
<rect x="565" y="140" width="1" height="18" fill="#ff0000"/>
<rect x="564" y="150" width="3" height="4" fill="#ff0000"/>
<rect x="565" y="151" width="1" height="2" fill="#ff4500"/>
<rect x="569" y="133" width="1" height="22" fill="#ff0000"/>
<rect x="568" y="142" width="3" height="11" fill="#ff0000"/>
<rect x="569" y="143" width="1" height="9" fill="#ff4500"/>
<rect x="573" y="133" width="1" height="13" fill="#ff0000"/>
<rect x="572" y="134" width="3" height="9" fill="#ff0000"/>
<rect x="573" y="135" width="1" height="7" fill="#ff4500"/>
<rect x="577" y="125" width="1" height="20" fill="#ff0000"/>
<rect x="576" y="133" width="3" height="1" fill="#ff0000"/>
<rect x="581" y="105" width="1" height="39" fill="#ff0000"/>
<rect x="580" y="106" width="3" height="27" fill="#ff0000"/>
<rect x="581" y="107" width="1" height="25" fill="#ff4500"/>
<rect x="585" y="104" width="1" height="24" fill="#32cd32"/>
<rect x="584" y="106" width="3" height="16" fill="#32cd32"/>
<rect x="589" y="173" width="1" height="20" fill="#32cd32"/>
<rect x="588" y="188" width="3" height="5" fill="#32cd32"/>
<rect x="593" y="191" width="1" height="89" fill="#32cd32"/>
<rect x="592" y="192" width="3" height="70" fill="#32cd32"/>
<rect x="597" y="244" width="1" height="36" fill="#ff0000"/>
<rect x="596" y="248" width="3" height="14" fill="#ff0000"/>
<rect x="597" y="249" width="1" height="12" fill="#ff4500"/>
<rect x="601" y="238" width="1" height="42" fill="#32cd32"/>
<rect x="600" y="248" width="3" height="25" fill="#32cd32"/>
<rect x="605" y="272" width="1" height="22" fill="#32cd32"/>
<rect x="604" y="273" width="3" height="5" fill="#32cd32"/>
<rect x="609" y="275" width="1" height="18" fill="#32cd32"/>
<rect x="608" y="277" width="3" height="14" fill="#32cd32"/>
<rect x="613" y="271" width="1" height="68" fill="#32cd32"/>
<rect x="612" y="291" width="3" height="47" fill="#32cd32"/>
<rect x="617" y="337" width="1" height="46" fill="#32cd32"/>
<rect x="616" y="338" width="3" height="21" fill="#32cd32"/>
<rect x="621" y="356" width="1" height="42" fill="#32cd32"/>
<rect x="620" y="360" width="3" height="15" fill="#32cd32"/>
<rect x="625" y="349" width="1" height="51" fill="#ff0000"/>
<rect x="624" y="355" width="3" height="20" fill="#ff0000"/>
<rect x="625" y="356" width="1" height="18" fill="#ff4500"/>
<rect x="629" y="336" width="1" height="31" fill="#ff0000"/>
<rect x="628" y="355" width="3" height="1" fill="#ff0000"/>
<rect x="633" y="334" width="1" height="26" fill="#ff0000"/>
<rect x="632" y="335" width="3" height="20" fill="#ff0000"/>
<rect x="633" y="336" width="1" height="18" fill="#ff4500"/>
<rect x="637" y="302" width="1" height="52" fill="#ff0000"/>
<rect x="636" y="305" width="3" height="30" fill="#ff0000"/>
<rect x="637" y="306" width="1" height="28" fill="#ff4500"/>
<rect x="641" y="293" width="1" height="29" fill="#32cd32"/>
<rect x="640" y="305" width="3" height="5" fill="#32cd32"/>
<rect x="645" y="302" width="1" height="30" fill="#32cd32"/>
<rect x="644" y="310" width="3" height="22" fill="#32cd32"/>
<rect x="649" y="312" width="1" height="22" fill="#ff0000"/>
<rect x="648" y="318" width="3" height="14" fill="#ff0000"/>
<rect x="649" y="319" width="1" height="12" fill="#ff4500"/>
<rect x="653" y="313" width="1" height="17" fill="#32cd32"/>
<rect x="652" y="320" width="3" height="1" fill="#32cd32"/>
<rect x="657" y="306" width="1" height="26" fill="#ff0000"/>
<rect x="656" y="307" width="3" height="14" fill="#ff0000"/>
<rect x="657" y="308" width="1" height="12" fill="#ff4500"/>
<rect x="661" y="265" width="1" height="43" fill="#ff0000"/>
<rect x="660" y="266" width="3" height="42" fill="#ff0000"/>
<rect x="661" y="267" width="1" height="40" fill="#ff4500"/>
<rect x="665" y="228" width="1" height="49" fill="#ff0000"/>
<rect x="664" y="265" width="3" height="2" fill="#ff0000"/>
<rect x="669" y="216" width="1" height="59" fill="#ff0000"/>
<rect x="668" y="240" width="3" height="23" fill="#ff0000"/>
<rect x="669" y="241" width="1" height="21" fill="#ff4500"/>
<rect x="673" y="232" width="1" height="47" fill="#32cd32"/>
<rect x="672" y="240" width="3" height="21" fill="#32cd32"/>
<rect x="677" y="241" width="1" height="29" fill="#ff0000"/>
<rect x="676" y="260" width="3" height="1" fill="#ff0000"/>
<rect x="681" y="260" width="1" height="27" fill="#32cd32"/>
<rect x="680" y="260" width="3" height="20" fill="#32cd32"/>
<rect x="685" y="254" width="1" height="55" fill="#32cd32"/>
<rect x="684" y="279" width="3" height="20" fill="#32cd32"/>
<rect x="689" y="267" width="1" height="37" fill="#ff0000"/>
<rect x="688" y="270" width="3" height="30" fill="#ff0000"/>
<rect x="689" y="271" width="1" height="28" fill="#ff4500"/>
<rect x="693" y="251" width="1" height="26" fill="#ff0000"/>
<rect x="692" y="254" width="3" height="16" fill="#ff0000"/>
<rect x="693" y="255" width="1" height="14" fill="#ff4500"/>
<rect x="697" y="254" width="1" height="42" fill="#32cd32"/>
<rect x="696" y="254" width="3" height="17" fill="#32cd32"/>
<rect x="701" y="251" width="1" height="24" fill="#ff0000"/>
<rect x="700" y="268" width="3" height="3" fill="#ff0000"/>
<rect x="701" y="269" width="1" height="1" fill="#ff4500"/>
<rect x="704" y="268" width="3" height="1" fill="#000"/>
<rect x="709" y="226" width="1" height="31" fill="#32cd32"/>
<rect x="708" y="226" width="3" height="12" fill="#32cd32"/>
<rect x="713" y="187" width="1" height="52" fill="#ff0000"/>
<rect x="712" y="207" width="3" height="31" fill="#ff0000"/>
<rect x="713" y="208" width="1" height="29" fill="#ff4500"/>
<rect x="717" y="193" width="1" height="21" fill="#ff0000"/>
<rect x="716" y="203" width="3" height="5" fill="#ff0000"/>
<rect x="717" y="204" width="1" height="3" fill="#ff4500"/>
<rect x="721" y="188" width="1" height="25" fill="#ff0000"/>
<rect x="720" y="189" width="3" height="14" fill="#ff0000"/>
<rect x="721" y="190" width="1" height="12" fill="#ff4500"/>
<rect x="725" y="185" width="1" height="20" fill="#32cd32"/>
<rect x="724" y="190" width="3" height="8" fill="#32cd32"/>
<rect x="729" y="195" width="1" height="14" fill="#32cd32"/>
<rect x="728" y="197" width="3" height="3" fill="#32cd32"/>
<rect x="733" y="181" width="1" height="58" fill="#32cd32"/>
<rect x="732" y="199" width="3" height="31" fill="#32cd32"/>
<rect x="737" y="216" width="1" height="27" fill="#ff0000"/>
<rect x="736" y="224" width="3" height="6" fill="#ff0000"/>
<rect x="737" y="225" width="1" height="4" fill="#ff4500"/>
<rect x="741" y="204" width="1" height="45" fill="#32cd32"/>
<rect x="740" y="224" width="3" height="16" fill="#32cd32"/>
<rect x="745" y="221" width="1" height="26" fill="#ff0000"/>
<rect x="744" y="222" width="3" height="18" fill="#ff0000"/>
<rect x="745" y="223" width="1" height="16" fill="#ff4500"/>
<rect x="749" y="209" width="1" height="25" fill="#32cd32"/>
<rect x="748" y="223" width="3" height="3" fill="#32cd32"/>
<rect x="753" y="215" width="1" height="36" fill="#32cd32"/>
<rect x="752" y="225" width="3" height="25" fill="#32cd32"/>
<rect x="757" y="246" width="1" height="36" fill="#32cd32"/>
<rect x="756" y="250" width="3" height="13" fill="#32cd32"/>
<rect x="761" y="247" width="1" height="25" fill="#ff0000"/>
<rect x="760" y="259" width="3" height="4" fill="#ff0000"/>
<rect x="761" y="260" width="1" height="2" fill="#ff4500"/>
<rect x="765" y="250" width="1" height="13" fill="#ff0000"/>
<rect x="764" y="257" width="3" height="3" fill="#ff0000"/>
<rect x="765" y="258" width="1" height="1" fill="#ff4500"/>
<rect x="769" y="255" width="1" height="41" fill="#32cd32"/>
<rect x="768" y="257" width="3" height="33" fill="#32cd32"/>
<rect x="773" y="282" width="1" height="23" fill="#32cd32"/>
<rect x="772" y="289" width="3" height="6" fill="#32cd32"/>
<rect x="777" y="291" width="1" height="16" fill="#32cd32"/>
<rect x="776" y="294" width="3" height="8" fill="#32cd32"/>
<rect x="781" y="286" width="1" height="20" fill="#ff0000"/>
<rect x="780" y="295" width="3" height="7" fill="#ff0000"/>
<rect x="781" y="296" width="1" height="5" fill="#ff4500"/>
<rect x="785" y="293" width="1" height="37" fill="#32cd32"/>
<rect x="784" y="295" width="3" height="25" fill="#32cd32"/>
<rect x="789" y="270" width="1" height="51" fill="#ff0000"/>
<rect x="788" y="282" width="3" height="38" fill="#ff0000"/>
<rect x="789" y="283" width="1" height="36" fill="#ff4500"/>
<rect x="793" y="259" width="1" height="38" fill="#ff0000"/>
<rect x="792" y="269" width="3" height="14" fill="#ff0000"/>
<rect x="793" y="270" width="1" height="12" fill="#ff4500"/>
<rect x="797" y="269" width="1" height="15" fill="#32cd32"/>
<rect x="796" y="269" width="3" height="12" fill="#32cd32"/>
<rect x="801" y="269" width="1" height="15" fill="#ff0000"/>
<rect x="800" y="274" width="3" height="7" fill="#ff0000"/>
<rect x="801" y="275" width="1" height="5" fill="#ff4500"/>
<rect x="805" y="250" width="1" height="29" fill="#ff0000"/>
<rect x="804" y="260" width="3" height="15" fill="#ff0000"/>
<rect x="805" y="261" width="1" height="13" fill="#ff4500"/>
<rect x="809" y="234" width="1" height="29" fill="#ff0000"/>
<rect x="808" y="240" width="3" height="21" fill="#ff0000"/>
<rect x="809" y="241" width="1" height="19" fill="#ff4500"/>
<rect x="813" y="211" width="1" height="34" fill="#ff0000"/>
<rect x="812" y="224" width="3" height="17" fill="#ff0000"/>
<rect x="813" y="225" width="1" height="15" fill="#ff4500"/>
<rect x="817" y="205" width="1" height="24" fill="#ff0000"/>
<rect x="816" y="223" width="3" height="1" fill="#ff0000"/>
<rect x="821" y="222" width="1" height="18" fill="#32cd32"/>
<rect x="820" y="222" width="3" height="4" fill="#32cd32"/>
<rect x="825" y="220" width="1" height="23" fill="#32cd32"/>
<rect x="824" y="224" width="3" height="18" fill="#32cd32"/>
<rect x="829" y="230" width="1" height="18" fill="#ff0000"/>
<rect x="828" y="234" width="3" height="8" fill="#ff0000"/>
<rect x="829" y="235" width="1" height="6" fill="#ff4500"/>
<rect x="833" y="226" width="1" height="18" fill="#32cd32"/>
<rect x="832" y="234" width="3" height="7" fill="#32cd32"/>
<rect x="837" y="229" width="1" height="14" fill="#ff0000"/>
<rect x="836" y="232" width="3" height="8" fill="#ff0000"/>
<rect x="837" y="233" width="1" height="6" fill="#ff4500"/>
<rect x="841" y="229" width="1" height="12" fill="#32cd32"/>
<rect x="840" y="233" width="3" height="2" fill="#32cd32"/>
<rect x="845" y="229" width="1" height="14" fill="#32cd32"/>
<rect x="844" y="235" width="3" height="4" fill="#32cd32"/>
<rect x="849" y="234" width="1" height="28" fill="#32cd32"/>
<rect x="848" y="238" width="3" height="14" fill="#32cd32"/>
<rect x="853" y="231" width="1" height="23" fill="#ff0000"/>
<rect x="852" y="240" width="3" height="12" fill="#ff0000"/>
<rect x="853" y="241" width="1" height="10" fill="#ff4500"/>
<rect x="857" y="234" width="1" height="22" fill="#32cd32"/>
<rect x="856" y="238" width="3" height="17" fill="#32cd32"/>
<rect x="861" y="234" width="1" height="26" fill="#ff0000"/>
<rect x="860" y="235" width="3" height="20" fill="#ff0000"/>
<rect x="861" y="236" width="1" height="18" fill="#ff4500"/>
<rect x="865" y="233" width="1" height="22" fill="#32cd32"/>
<rect x="864" y="236" width="3" height="14" fill="#32cd32"/>
<rect x="869" y="249" width="1" height="14" fill="#32cd32"/>
<rect x="868" y="249" width="3" height="8" fill="#32cd32"/>
<rect x="873" y="248" width="1" height="18" fill="#32cd32"/>
<rect x="872" y="254" width="3" height="7" fill="#32cd32"/>
<rect x="877" y="242" width="1" height="21" fill="#ff0000"/>
<rect x="876" y="243" width="3" height="17" fill="#ff0000"/>
<rect x="877" y="244" width="1" height="15" fill="#ff4500"/>
<rect x="881" y="235" width="1" height="13" fill="#ff0000"/>
<rect x="880" y="240" width="3" height="4" fill="#ff0000"/>
<rect x="881" y="241" width="1" height="2" fill="#ff4500"/>
<rect x="885" y="235" width="1" height="21" fill="#32cd32"/>
<rect x="884" y="240" width="3" height="8" fill="#32cd32"/>
<rect x="889" y="220" width="1" height="43" fill="#ff0000"/>
<rect x="888" y="223" width="3" height="24" fill="#ff0000"/>
<rect x="889" y="224" width="1" height="22" fill="#ff4500"/>
<rect x="893" y="213" width="1" height="22" fill="#32cd32"/>
<rect x="892" y="222" width="3" height="2" fill="#32cd32"/>
<rect x="897" y="200" width="1" height="33" fill="#ff0000"/>
<rect x="896" y="211" width="3" height="13" fill="#ff0000"/>
<rect x="897" y="212" width="1" height="11" fill="#ff4500"/>
<rect x="901" y="197" width="1" height="31" fill="#32cd32"/>
<rect x="900" y="211" width="3" height="12" fill="#32cd32"/>
<rect x="905" y="220" width="1" height="52" fill="#32cd32"/>
<rect x="904" y="222" width="3" height="36" fill="#32cd32"/>
<rect x="909" y="234" width="1" height="31" fill="#ff0000"/>
<rect x="908" y="236" width="3" height="22" fill="#ff0000"/>
<rect x="909" y="237" width="1" height="20" fill="#ff4500"/>
<rect x="913" y="228" width="1" height="25" fill="#32cd32"/>
<rect x="912" y="235" width="3" height="13" fill="#32cd32"/>
<rect x="917" y="245" width="1" height="7" fill="#ff0000"/>
<rect x="916" y="247" width="3" height="1" fill="#ff0000"/>
<rect x="921" y="238" width="1" height="25" fill="#ff0000"/>
<rect x="920" y="243" width="3" height="5" fill="#ff0000"/>
<rect x="921" y="244" width="1" height="3" fill="#ff4500"/>
<rect x="925" y="215" width="1" height="33" fill="#ff0000"/>
<rect x="924" y="220" width="3" height="24" fill="#ff0000"/>
<rect x="925" y="221" width="1" height="22" fill="#ff4500"/>
<rect x="929" y="198" width="1" height="25" fill="#ff0000"/>
<rect x="928" y="208" width="3" height="12" fill="#ff0000"/>
<rect x="929" y="209" width="1" height="10" fill="#ff4500"/>
<rect x="933" y="197" width="1" height="22" fill="#ff0000"/>
<rect x="932" y="201" width="3" height="7" fill="#ff0000"/>
<rect x="933" y="202" width="1" height="5" fill="#ff4500"/>
<rect x="937" y="186" width="1" height="20" fill="#ff0000"/>
<rect x="936" y="190" width="3" height="12" fill="#ff0000"/>
<rect x="937" y="191" width="1" height="10" fill="#ff4500"/>
<rect x="941" y="183" width="1" height="49" fill="#32cd32"/>
<rect x="940" y="185" width="3" height="40" fill="#32cd32"/>
<rect x="945" y="213" width="1" height="24" fill="#ff0000"/>
<rect x="944" y="218" width="3" height="5" fill="#ff0000"/>
<rect x="945" y="219" width="1" height="3" fill="#ff4500"/>
<rect x="949" y="214" width="1" height="14" fill="#ff0000"/>
<rect x="948" y="216" width="3" height="3" fill="#ff0000"/>
<rect x="949" y="217" width="1" height="1" fill="#ff4500"/>
<rect x="953" y="214" width="1" height="16" fill="#32cd32"/>
<rect x="952" y="216" width="3" height="9" fill="#32cd32"/>
<rect x="957" y="220" width="1" height="14" fill="#32cd32"/>
<rect x="956" y="223" width="3" height="8" fill="#32cd32"/>
<rect x="961" y="230" width="1" height="4" fill="#32cd32"/>
<rect x="960" y="231" width="3" height="2" fill="#32cd32"/>
<rect x="965" y="244" width="1" height="5" fill="#ff0000"/>
<rect x="964" y="244" width="3" height="3" fill="#ff0000"/>
<rect x="965" y="245" width="1" height="1" fill="#ff4500"/>
<rect x="969" y="233" width="1" height="18" fill="#ff0000"/>
<rect x="968" y="238" width="3" height="8" fill="#ff0000"/>
<rect x="969" y="239" width="1" height="6" fill="#ff4500"/>
<rect x="973" y="235" width="1" height="22" fill="#32cd32"/>
<rect x="972" y="240" width="3" height="17" fill="#32cd32"/>
<rect x="977" y="236" width="1" height="21" fill="#ff0000"/>
<rect x="976" y="246" width="3" height="10" fill="#ff0000"/>
<rect x="977" y="247" width="1" height="8" fill="#ff4500"/>
<rect x="981" y="243" width="1" height="23" fill="#32cd32"/>
<rect x="980" y="246" width="3" height="20" fill="#32cd32"/>
<rect x="985" y="241" width="1" height="27" fill="#ff0000"/>
<rect x="984" y="245" width="3" height="21" fill="#ff0000"/>
<rect x="985" y="246" width="1" height="19" fill="#ff4500"/>
<rect x="989" y="238" width="1" height="14" fill="#32cd32"/>
<rect x="988" y="245" width="3" height="2" fill="#32cd32"/>
<rect x="993" y="230" width="1" height="29" fill="#ff0000"/>
<rect x="992" y="242" width="3" height="4" fill="#ff0000"/>
<rect x="993" y="243" width="1" height="2" fill="#ff4500"/>
<rect x="997" y="236" width="1" height="17" fill="#ff0000"/>
<rect x="996" y="236" width="3" height="8" fill="#ff0000"/>
<rect x="997" y="237" width="1" height="6" fill="#ff4500"/>
<rect x="1001" y="237" width="1" height="58" fill="#32cd32"/>
<rect x="1000" y="237" width="3" height="40" fill="#32cd32"/>
<rect x="1005" y="258" width="1" height="19" fill="#ff0000"/>
<rect x="1004" y="269" width="3" height="7" fill="#ff0000"/>
<rect x="1005" y="270" width="1" height="5" fill="#ff4500"/>
<rect x="1009" y="266" width="1" height="22" fill="#32cd32"/>
<rect x="1008" y="272" width="3" height="15" fill="#32cd32"/>
<rect x="1013" y="279" width="1" height="15" fill="#32cd32"/>
<rect x="1012" y="286" width="3" height="2" fill="#32cd32"/>
<rect x="1017" y="279" width="1" height="29" fill="#32cd32"/>
<rect x="1016" y="288" width="3" height="18" fill="#32cd32"/>
<rect x="1021" y="299" width="1" height="18" fill="#ff0000"/>
<rect x="1020" y="302" width="3" height="4" fill="#ff0000"/>
<rect x="1021" y="303" width="1" height="2" fill="#ff4500"/>
<rect x="1025" y="260" width="1" height="49" fill="#ff0000"/>
<rect x="1024" y="274" width="3" height="29" fill="#ff0000"/>
<rect x="1025" y="275" width="1" height="27" fill="#ff4500"/>
<rect x="1029" y="262" width="1" height="17" fill="#ff0000"/>
<rect x="1028" y="268" width="3" height="7" fill="#ff0000"/>
<rect x="1029" y="269" width="1" height="5" fill="#ff4500"/>
<rect x="1033" y="260" width="1" height="17" fill="#32cd32"/>
<rect x="1032" y="269" width="3" height="7" fill="#32cd32"/>
<rect x="1037" y="272" width="1" height="7" fill="#ff0000"/>
<rect x="1036" y="274" width="3" height="2" fill="#ff0000"/>
<rect x="5" y="88" width="1" height="27" fill="#ff0000"/>
<rect x="542" y="158" width="321" height="2" fill="#ff2020"/>
<rect x="415" y="183" width="654" height="2" fill="#8dc600"/>
<rect x="663" y="324" width="425" height="1" fill="#3490e3"/>
<rect x="4" y="424" width="3" height="8" fill="#c0c0c0"/>
<rect x="8" y="424" width="3" height="8" fill="#c0c0c0"/>
<rect x="12" y="424" width="3" height="8" fill="#c0c0c0"/>
<rect x="16" y="424" width="3" height="8" fill="#c0c0c0"/>
<rect x="20" y="424" width="3" height="8" fill="#c0c0c0"/>
<rect x="24" y="424" width="3" height="8" fill="#c0c0c0"/>
<rect x="28" y="424" width="3" height="8" fill="#c0c0c0"/>
<rect x="32" y="424" width="3" height="8" fill="#c0c0c0"/>
<rect x="36" y="424" width="3" height="8" fill="#c0c0c0"/>
<rect x="40" y="424" width="3" height="8" fill="#c0c0c0"/>
<rect x="44" y="424" width="3" height="8" fill="#c0c0c0"/>
<rect x="48" y="424" width="3" height="8" fill="#c0c0c0"/>
<rect x="52" y="424" width="3" height="8" fill="#c0c0c0"/>
<rect x="56" y="424" width="3" height="8" fill="#c0c0c0"/>
<rect x="60" y="424" width="3" height="8" fill="#c0c0c0"/>
<rect x="64" y="424" width="3" height="8" fill="#c0c0c0"/>
<rect x="68" y="424" width="3" height="8" fill="#c0c0c0"/>
<rect x="72" y="424" width="3" height="8" fill="#c0c0c0"/>
<rect x="76" y="424" width="3" height="8" fill="#c0c0c0"/>
<rect x="80" y="427" width="3" height="5" fill="#c0c0c0"/>
<rect x="84" y="431" width="3" height="1" fill="#c0c0c0"/>
<rect x="88" y="432" width="3" height="5" fill="#c0c0c0"/>
<rect x="92" y="432" width="3" height="10" fill="#c0c0c0"/>
<rect x="96" y="432" width="3" height="14" fill="#c0c0c0"/>
<rect x="100" y="432" width="3" height="16" fill="#c0c0c0"/>
<rect x="104" y="432" width="3" height="23" fill="#c0c0c0"/>
<rect x="108" y="432" width="3" height="30" fill="#c0c0c0"/>
<rect x="112" y="432" width="3" height="32" fill="#c0c0c0"/>
<rect x="116" y="432" width="3" height="33" fill="#c0c0c0"/>
<rect x="120" y="432" width="3" height="31" fill="#c0c0c0"/>
<rect x="124" y="432" width="3" height="27" fill="#c0c0c0"/>
<rect x="128" y="432" width="3" height="25" fill="#c0c0c0"/>
<rect x="132" y="432" width="3" height="23" fill="#c0c0c0"/>
<rect x="136" y="432" width="3" height="22" fill="#c0c0c0"/>
<rect x="140" y="432" width="3" height="20" fill="#c0c0c0"/>
<rect x="144" y="432" width="3" height="18" fill="#c0c0c0"/>
<rect x="148" y="432" width="3" height="16" fill="#c0c0c0"/>
<rect x="152" y="432" width="3" height="15" fill="#c0c0c0"/>
<rect x="156" y="432" width="3" height="14" fill="#c0c0c0"/>
<rect x="160" y="432" width="3" height="12" fill="#c0c0c0"/>
<rect x="164" y="432" width="3" height="12" fill="#c0c0c0"/>
<rect x="168" y="432" width="3" height="11" fill="#c0c0c0"/>
<rect x="172" y="432" width="3" height="10" fill="#c0c0c0"/>
<rect x="176" y="432" width="3" height="10" fill="#c0c0c0"/>
<rect x="180" y="432" width="3" height="8" fill="#c0c0c0"/>
<rect x="184" y="432" width="3" height="7" fill="#c0c0c0"/>
<rect x="188" y="432" width="3" height="6" fill="#c0c0c0"/>
<rect x="192" y="432" width="3" height="5" fill="#c0c0c0"/>
<rect x="196" y="432" width="3" height="4" fill="#c0c0c0"/>
<rect x="200" y="432" width="3" height="3" fill="#c0c0c0"/>
<rect x="204" y="432" width="3" height="1" fill="#c0c0c0"/>
<rect x="208" y="431" width="3" height="1" fill="#c0c0c0"/>
<rect x="212" y="429" width="3" height="3" fill="#c0c0c0"/>
<rect x="216" y="428" width="3" height="4" fill="#c0c0c0"/>
<rect x="220" y="426" width="3" height="6" fill="#c0c0c0"/>
<rect x="224" y="425" width="3" height="7" fill="#c0c0c0"/>
<rect x="228" y="424" width="3" height="8" fill="#c0c0c0"/>
<rect x="232" y="422" width="3" height="10" fill="#c0c0c0"/>
<rect x="236" y="420" width="3" height="12" fill="#c0c0c0"/>
<rect x="240" y="419" width="3" height="13" fill="#c0c0c0"/>
<rect x="244" y="418" width="3" height="14" fill="#c0c0c0"/>
<rect x="248" y="416" width="3" height="16" fill="#c0c0c0"/>
<rect x="252" y="415" width="3" height="17" fill="#c0c0c0"/>
<rect x="256" y="415" width="3" height="17" fill="#c0c0c0"/>
<rect x="260" y="417" width="3" height="15" fill="#c0c0c0"/>
<rect x="264" y="419" width="3" height="13" fill="#c0c0c0"/>
<rect x="268" y="420" width="3" height="12" fill="#c0c0c0"/>
<rect x="272" y="421" width="3" height="11" fill="#c0c0c0"/>
<rect x="276" y="422" width="3" height="10" fill="#c0c0c0"/>
<rect x="280" y="423" width="3" height="9" fill="#c0c0c0"/>
<rect x="284" y="424" width="3" height="8" fill="#c0c0c0"/>
<rect x="288" y="426" width="3" height="6" fill="#c0c0c0"/>
<rect x="292" y="427" width="3" height="5" fill="#c0c0c0"/>
<rect x="296" y="428" width="3" height="4" fill="#c0c0c0"/>
<rect x="300" y="429" width="3" height="3" fill="#c0c0c0"/>
<rect x="304" y="430" width="3" height="2" fill="#c0c0c0"/>
<rect x="308" y="432" width="3" height="1" fill="#c0c0c0"/>
<rect x="312" y="432" width="3" height="1" fill="#c0c0c0"/>
<rect x="316" y="432" width="3" height="3" fill="#c0c0c0"/>
<rect x="320" y="432" width="3" height="4" fill="#c0c0c0"/>
<rect x="324" y="432" width="3" height="6" fill="#c0c0c0"/>
<rect x="328" y="432" width="3" height="7" fill="#c0c0c0"/>
<rect x="332" y="432" width="3" height="8" fill="#c0c0c0"/>
<rect x="336" y="432" width="3" height="5" fill="#c0c0c0"/>
<rect x="340" y="432" width="3" height="6" fill="#c0c0c0"/>
<rect x="344" y="432" width="3" height="7" fill="#c0c0c0"/>
<rect x="348" y="432" width="3" height="8" fill="#c0c0c0"/>
<rect x="352" y="432" width="3" height="7" fill="#c0c0c0"/>
<rect x="356" y="432" width="3" height="6" fill="#c0c0c0"/>
<rect x="360" y="432" width="3" height="6" fill="#c0c0c0"/>
<rect x="364" y="432" width="3" height="5" fill="#c0c0c0"/>
<rect x="368" y="432" width="3" height="5" fill="#c0c0c0"/>
<rect x="372" y="432" width="3" height="5" fill="#c0c0c0"/>
<rect x="376" y="432" width="3" height="4" fill="#c0c0c0"/>
<rect x="380" y="432" width="3" height="3" fill="#c0c0c0"/>
<rect x="384" y="432" width="3" height="3" fill="#c0c0c0"/>
<rect x="388" y="432" width="3" height="1" fill="#c0c0c0"/>
<rect x="392" y="432" width="3" height="1" fill="#c0c0c0"/>
<rect x="396" y="431" width="3" height="1" fill="#c0c0c0"/>
<rect x="400" y="430" width="3" height="2" fill="#c0c0c0"/>
<rect x="404" y="430" width="3" height="2" fill="#c0c0c0"/>
<rect x="408" y="430" width="3" height="2" fill="#c0c0c0"/>
<rect x="412" y="431" width="3" height="1" fill="#c0c0c0"/>
<rect x="416" y="432" width="3" height="1" fill="#c0c0c0"/>
<rect x="420" y="432" width="3" height="2" fill="#c0c0c0"/>
<rect x="424" y="432" width="3" height="3" fill="#c0c0c0"/>
<rect x="428" y="432" width="3" height="5" fill="#c0c0c0"/>
<rect x="432" y="432" width="3" height="5" fill="#c0c0c0"/>
<rect x="436" y="432" width="3" height="6" fill="#c0c0c0"/>
<rect x="440" y="432" width="3" height="5" fill="#c0c0c0"/>
<rect x="444" y="432" width="3" height="4" fill="#c0c0c0"/>
<rect x="448" y="432" width="3" height="3" fill="#c0c0c0"/>
<rect x="452" y="432" width="3" height="3" fill="#c0c0c0"/>
<rect x="456" y="432" width="3" height="2" fill="#c0c0c0"/>
<rect x="460" y="432" width="3" height="1" fill="#c0c0c0"/>
<rect x="464" y="431" width="3" height="1" fill="#c0c0c0"/>
<rect x="468" y="430" width="3" height="2" fill="#c0c0c0"/>
<rect x="472" y="430" width="3" height="2" fill="#c0c0c0"/>
<rect x="476" y="430" width="3" height="2" fill="#c0c0c0"/>
<rect x="480" y="430" width="3" height="2" fill="#c0c0c0"/>
<rect x="484" y="430" width="3" height="2" fill="#c0c0c0"/>
<rect x="488" y="429" width="3" height="3" fill="#c0c0c0"/>
<rect x="492" y="428" width="3" height="4" fill="#c0c0c0"/>
<rect x="496" y="428" width="3" height="4" fill="#c0c0c0"/>
<rect x="500" y="427" width="3" height="5" fill="#c0c0c0"/>
<rect x="504" y="427" width="3" height="5" fill="#c0c0c0"/>
<rect x="508" y="426" width="3" height="6" fill="#c0c0c0"/>
<rect x="512" y="425" width="3" height="7" fill="#c0c0c0"/>
<rect x="516" y="424" width="3" height="8" fill="#c0c0c0"/>
<rect x="520" y="423" width="3" height="9" fill="#c0c0c0"/>
<rect x="524" y="423" width="3" height="9" fill="#c0c0c0"/>
<rect x="528" y="423" width="3" height="9" fill="#c0c0c0"/>
<rect x="532" y="424" width="3" height="8" fill="#c0c0c0"/>
<rect x="536" y="425" width="3" height="7" fill="#c0c0c0"/>
<rect x="540" y="426" width="3" height="6" fill="#c0c0c0"/>
<rect x="544" y="428" width="3" height="4" fill="#c0c0c0"/>
<rect x="548" y="430" width="3" height="2" fill="#c0c0c0"/>
<rect x="552" y="431" width="3" height="1" fill="#c0c0c0"/>
<rect x="556" y="432" width="3" height="1" fill="#c0c0c0"/>
<rect x="560" y="432" width="3" height="1" fill="#c0c0c0"/>
<rect x="564" y="432" width="3" height="1" fill="#c0c0c0"/>
<rect x="568" y="432" width="3" height="1" fill="#c0c0c0"/>
<rect x="572" y="432" width="3" height="1" fill="#c0c0c0"/>
<rect x="576" y="431" width="3" height="1" fill="#c0c0c0"/>
<rect x="580" y="430" width="3" height="2" fill="#c0c0c0"/>
<rect x="584" y="430" width="3" height="2" fill="#c0c0c0"/>
<rect x="588" y="432" width="3" height="2" fill="#c0c0c0"/>
<rect x="592" y="432" width="3" height="8" fill="#c0c0c0"/>
<rect x="596" y="432" width="3" height="14" fill="#c0c0c0"/>
<rect x="600" y="432" width="3" height="19" fill="#c0c0c0"/>
<rect x="604" y="432" width="3" height="24" fill="#c0c0c0"/>
<rect x="608" y="432" width="3" height="28" fill="#c0c0c0"/>
<rect x="612" y="432" width="3" height="33" fill="#c0c0c0"/>
<rect x="616" y="432" width="3" height="37" fill="#c0c0c0"/>
<rect x="620" y="432" width="3" height="41" fill="#c0c0c0"/>
<rect x="624" y="432" width="3" height="43" fill="#c0c0c0"/>
<rect x="628" y="432" width="3" height="44" fill="#c0c0c0"/>
<rect x="632" y="432" width="3" height="43" fill="#c0c0c0"/>
<rect x="636" y="432" width="3" height="41" fill="#c0c0c0"/>
<rect x="640" y="432" width="3" height="39" fill="#c0c0c0"/>
<rect x="644" y="432" width="3" height="36" fill="#c0c0c0"/>
<rect x="648" y="432" width="3" height="34" fill="#c0c0c0"/>
<rect x="652" y="432" width="3" height="31" fill="#c0c0c0"/>
<rect x="656" y="432" width="3" height="28" fill="#c0c0c0"/>
<rect x="660" y="432" width="3" height="24" fill="#c0c0c0"/>
<rect x="664" y="432" width="3" height="19" fill="#c0c0c0"/>
<rect x="668" y="432" width="3" height="16" fill="#c0c0c0"/>
<rect x="672" y="432" width="3" height="13" fill="#c0c0c0"/>
<rect x="676" y="432" width="3" height="11" fill="#c0c0c0"/>
<rect x="680" y="432" width="3" height="10" fill="#c0c0c0"/>
<rect x="684" y="432" width="3" height="9" fill="#c0c0c0"/>
<rect x="688" y="432" width="3" height="8" fill="#c0c0c0"/>
<rect x="692" y="432" width="3" height="7" fill="#c0c0c0"/>
<rect x="696" y="432" width="3" height="6" fill="#c0c0c0"/>
<rect x="700" y="432" width="3" height="5" fill="#c0c0c0"/>
<rect x="704" y="432" width="3" height="3" fill="#c0c0c0"/>
<rect x="708" y="432" width="3" height="2" fill="#c0c0c0"/>
<rect x="712" y="430" width="3" height="2" fill="#c0c0c0"/>
<rect x="716" y="426" width="3" height="6" fill="#c0c0c0"/>
<rect x="720" y="423" width="3" height="9" fill="#c0c0c0"/>
<rect x="724" y="421" width="3" height="11" fill="#c0c0c0"/>
<rect x="728" y="421" width="3" height="11" fill="#c0c0c0"/>
<rect x="732" y="421" width="3" height="11" fill="#c0c0c0"/>
<rect x="736" y="422" width="3" height="10" fill="#c0c0c0"/>
<rect x="740" y="422" width="3" height="10" fill="#c0c0c0"/>
<rect x="744" y="423" width="3" height="9" fill="#c0c0c0"/>
<rect x="748" y="425" width="3" height="7" fill="#c0c0c0"/>
<rect x="752" y="427" width="3" height="5" fill="#c0c0c0"/>
<rect x="756" y="428" width="3" height="4" fill="#c0c0c0"/>
<rect x="760" y="430" width="3" height="2" fill="#c0c0c0"/>
<rect x="764" y="431" width="3" height="1" fill="#c0c0c0"/>
<rect x="768" y="432" width="3" height="2" fill="#c0c0c0"/>
<rect x="772" y="432" width="3" height="4" fill="#c0c0c0"/>
<rect x="776" y="432" width="3" height="6" fill="#c0c0c0"/>
<rect x="780" y="432" width="3" height="9" fill="#c0c0c0"/>
<rect x="784" y="432" width="3" height="11" fill="#c0c0c0"/>
<rect x="788" y="432" width="3" height="10" fill="#c0c0c0"/>
<rect x="792" y="432" width="3" height="9" fill="#c0c0c0"/>
<rect x="796" y="432" width="3" height="8" fill="#c0c0c0"/>
<rect x="800" y="432" width="3" height="7" fill="#c0c0c0"/>
<rect x="804" y="432" width="3" height="5" fill="#c0c0c0"/>
<rect x="808" y="432" width="3" height="2" fill="#c0c0c0"/>
<rect x="812" y="432" width="3" height="1" fill="#c0c0c0"/>
<rect x="816" y="430" width="3" height="2" fill="#c0c0c0"/>
<rect x="820" y="429" width="3" height="3" fill="#c0c0c0"/>
<rect x="824" y="428" width="3" height="4" fill="#c0c0c0"/>
<rect x="828" y="428" width="3" height="4" fill="#c0c0c0"/>
<rect x="832" y="427" width="3" height="5" fill="#c0c0c0"/>
<rect x="836" y="427" width="3" height="5" fill="#c0c0c0"/>
<rect x="840" y="427" width="3" height="5" fill="#c0c0c0"/>
<rect x="844" y="427" width="3" height="5" fill="#c0c0c0"/>
<rect x="848" y="428" width="3" height="4" fill="#c0c0c0"/>
<rect x="852" y="428" width="3" height="4" fill="#c0c0c0"/>
<rect x="856" y="429" width="3" height="3" fill="#c0c0c0"/>
<rect x="860" y="430" width="3" height="2" fill="#c0c0c0"/>
<rect x="864" y="430" width="3" height="2" fill="#c0c0c0"/>
<rect x="868" y="431" width="3" height="1" fill="#c0c0c0"/>
<rect x="872" y="431" width="3" height="1" fill="#c0c0c0"/>
<rect x="876" y="431" width="3" height="1" fill="#c0c0c0"/>
<rect x="880" y="431" width="3" height="1" fill="#c0c0c0"/>
<rect x="884" y="430" width="3" height="2" fill="#c0c0c0"/>
<rect x="888" y="429" width="3" height="3" fill="#c0c0c0"/>
<rect x="892" y="428" width="3" height="4" fill="#c0c0c0"/>
<rect x="896" y="427" width="3" height="5" fill="#c0c0c0"/>
<rect x="900" y="426" width="3" height="6" fill="#c0c0c0"/>
<rect x="904" y="428" width="3" height="4" fill="#c0c0c0"/>
<rect x="908" y="429" width="3" height="3" fill="#c0c0c0"/>
<rect x="912" y="430" width="3" height="2" fill="#c0c0c0"/>
<rect x="916" y="430" width="3" height="2" fill="#c0c0c0"/>
<rect x="920" y="430" width="3" height="2" fill="#c0c0c0"/>
<rect x="924" y="429" width="3" height="3" fill="#c0c0c0"/>
<rect x="928" y="427" width="3" height="5" fill="#c0c0c0"/>
<rect x="932" y="426" width="3" height="6" fill="#c0c0c0"/>
<rect x="936" y="424" width="3" height="8" fill="#c0c0c0"/>
<rect x="940" y="424" width="3" height="8" fill="#c0c0c0"/>
<rect x="944" y="425" width="3" height="7" fill="#c0c0c0"/>
<rect x="948" y="425" width="3" height="7" fill="#c0c0c0"/>
<rect x="952" y="426" width="3" height="6" fill="#c0c0c0"/>
<rect x="956" y="427" width="3" height="5" fill="#c0c0c0"/>
<rect x="960" y="428" width="3" height="4" fill="#c0c0c0"/>
<rect x="964" y="430" width="3" height="2" fill="#c0c0c0"/>
<rect x="968" y="431" width="3" height="1" fill="#c0c0c0"/>
<rect x="972" y="432" width="3" height="1" fill="#c0c0c0"/>
<rect x="976" y="432" width="3" height="2" fill="#c0c0c0"/>
<rect x="980" y="432" width="3" height="2" fill="#c0c0c0"/>
<rect x="984" y="432" width="3" height="3" fill="#c0c0c0"/>
<rect x="988" y="432" width="3" height="3" fill="#c0c0c0"/>
<rect x="992" y="432" width="3" height="3" fill="#c0c0c0"/>
<rect x="996" y="432" width="3" height="4" fill="#c0c0c0"/>
<rect x="1000" y="432" width="3" height="4" fill="#c0c0c0"/>
<rect x="1004" y="432" width="3" height="5" fill="#c0c0c0"/>
<rect x="1008" y="432" width="3" height="7" fill="#c0c0c0"/>
<rect x="1012" y="432" width="3" height="8" fill="#c0c0c0"/>
<rect x="1016" y="432" width="3" height="10" fill="#c0c0c0"/>
<rect x="1020" y="432" width="3" height="11" fill="#c0c0c0"/>
<rect x="1024" y="432" width="3" height="11" fill="#c0c0c0"/>
<rect x="1028" y="432" width="3" height="11" fill="#c0c0c0"/>
<rect x="1032" y="432" width="3" height="10" fill="#c0c0c0"/>
<rect x="1036" y="432" width="3" height="9" fill="#c0c0c0"/>
<g shape-rendering="crispEdges"><path d="M5 423h18v1h-18zM23 422h32v1h-32zM55 421h30v1h-30zM85 422h2v1h-2zM87 423h2v1h-2zM89 424h2v1h-2zM91 425h1v1h-1zM92 426h2v1h-2zM94 427h1v1h-1zM95 428h2v1h-2zM97 429h1v1h-1zM98 430h1v1h-1zM99 431h1v1h-1zM100 432h1v1h-1zM101 433h1v1h-1zM102 434h1v1h-1zM103 435h1v1h-1zM104 436h1v1h-1zM105 437h1v1h-1zM106 438h1v1h-1zM107 439h1v1h-1zM108 440h1v1h-1zM109 441h1v1h-1zM110 442h1v1h-1zM111 443h1v1h-1zM112 444h1v1h-1zM113 445h1v1h-1zM114 446h1v1h-1zM115 447h1v1h-1zM116 448h1v1h-1zM117 449h2v1h-2zM119 450h1v1h-1zM120 451h1v1h-1zM121 452h2v1h-2zM123 453h1v1h-1zM124 454h1v1h-1zM125 455h2v1h-2zM127 456h3v1h-3zM130 457h2v1h-2zM132 458h3v1h-3zM135 459h6v1h-6zM141 458h2v1h-2zM143 457h3v1h-3zM146 456h2v1h-2zM148 455h2v1h-2zM150 454h2v1h-2zM152 453h2v1h-2zM154 452h2v1h-2zM156 451h2v1h-2zM158 450h3v1h-3zM161 449h2v1h-2zM163 448h3v1h-3zM166 447h3v1h-3zM169 446h3v1h-3zM172 445h3v1h-3zM175 444h4v1h-4zM179 443h3v1h-3zM182 442h3v1h-3zM185 441h4v1h-4zM189 440h4v1h-4zM193 439h5v1h-5zM198 438h5v1h-5zM203 437h4v1h-4zM207 436h3v1h-3zM210 435h2v1h-2zM212 434h3v1h-3zM215 433h2v1h-2zM217 432h3v1h-3zM220 431h3v1h-3zM223 430h2v1h-2zM225 429h3v1h-3zM228 428h3v1h-3zM231 427h3v1h-3zM234 426h3v1h-3zM237 425h2v1h-2zM239 424h3v1h-3zM242 423h3v1h-3zM245 422h3v1h-3zM248 421h3v1h-3zM251 420h3v1h-3zM254 419h3v1h-3zM257 418h3v1h-3zM260 417h8v1h-8zM268 416h3v1h-3zM271 417h7v1h-7zM278 418h4v1h-4zM282 419h4v1h-4zM286 420h3v1h-3zM289 421h4v1h-4zM293 422h4v1h-4zM297 423h3v1h-3zM300 424h4v1h-4zM304 425h4v1h-4zM308 426h4v1h-4zM312 427h3v1h-3zM315 428h3v1h-3zM318 429h3v1h-3zM321 430h3v1h-3zM324 431h3v1h-3zM327 432h3v1h-3zM330 433h3v1h-3zM333 434h2v1h-2zM335 435h4v1h-4zM339 436h8v1h-8zM347 437h10v1h-10zM357 438h7v1h-7zM364 437h16v1h-16zM380 436h6v1h-6zM386 435h6v1h-6zM392 434h6v1h-6zM398 433h6v1h-6zM404 432h6v1h-6zM410 431h16v1h-16zM426 432h6v1h-6zM432 433h6v1h-6zM438 434h6v1h-6zM444 435h6v1h-6zM450 436h11v1h-11zM461 435h5v1h-5zM466 434h5v1h-5zM471 433h4v1h-4zM475 432h5v1h-5zM480 431h4v1h-4zM484 430h8v1h-8zM492 429h9v1h-9zM501 428h7v1h-7zM508 427h6v1h-6zM514 426h6v1h-6zM520 425h9v1h-9zM529 424h16v1h-16zM545 425h5v1h-5zM550 426h5v1h-5zM555 427h4v1h-4zM559 428h4v1h-4zM563 429h4v1h-4zM567 430h4v1h-4zM571 431h1v1h-1zM572 430h13v1h-13zM585 431h5v1h-5zM590 432h4v1h-4zM594 433h4v1h-4zM598 434h1v1h-1zM599 435h2v1h-2zM601 436h2v1h-2zM603 437h2v1h-2zM605 438h2v1h-2zM607 439h1v1h-1zM608 440h1v1h-1zM609 441h1v2h-1zM610 443h1v1h-1zM611 444h1v1h-1zM612 445h1v1h-1zM613 446h1v1h-1zM614 447h1v1h-1zM615 448h1v1h-1zM616 449h1v1h-1zM617 450h1v1h-1zM618 451h1v2h-1zM619 453h2v1h-2zM621 454h1v1h-1zM622 455h1v1h-1zM623 456h1v1h-1zM624 457h1v1h-1zM625 458h1v1h-1zM626 459h1v1h-1zM627 460h1v1h-1zM628 461h1v1h-1zM629 462h2v1h-2zM631 463h1v1h-1zM632 464h1v1h-1zM633 465h2v1h-2zM635 466h1v1h-1zM636 467h2v1h-2zM638 468h2v1h-2zM640 469h1v1h-1zM641 470h7v1h-7zM648 471h5v1h-5zM653 470h2v1h-2zM655 469h2v1h-2zM657 468h3v1h-3zM660 467h1v1h-1zM661 466h2v1h-2zM663 465h2v1h-2zM665 464h1v1h-1zM666 463h2v1h-2zM668 462h1v1h-1zM669 461h2v1h-2zM671 460h1v1h-1zM672 459h1v1h-1zM673 458h1v1h-1zM674 457h1v1h-1zM675 456h1v1h-1zM676 455h1v1h-1zM677 454h1v1h-1zM678 453h2v1h-2zM680 452h1v1h-1zM681 451h1v1h-1zM682 450h2v1h-2zM684 449h1v1h-1zM685 448h2v1h-2zM687 447h1v1h-1zM688 446h2v1h-2zM690 445h2v1h-2zM692 444h2v1h-2zM694 443h3v1h-3zM697 442h2v1h-2zM699 441h2v1h-2zM701 440h3v1h-3zM704 439h3v1h-3zM707 438h3v1h-3zM710 437h3v1h-3zM713 436h2v1h-2zM715 435h2v1h-2zM717 434h2v1h-2zM719 433h2v1h-2zM721 432h2v1h-2zM723 431h2v1h-2zM725 430h2v1h-2zM727 429h2v1h-2zM729 428h2v1h-2zM731 427h2v1h-2zM733 426h2v1h-2zM735 425h2v1h-2zM737 424h3v1h-3zM740 423h4v1h-4zM744 422h15v1h-15zM759 423h4v1h-4zM763 424h3v1h-3zM766 425h2v1h-2zM768 426h3v1h-3zM771 427h2v1h-2zM773 428h3v1h-3zM776 429h2v1h-2zM778 430h2v1h-2zM780 431h2v1h-2zM782 432h2v1h-2zM784 433h3v1h-3zM787 434h2v1h-2zM789 435h2v1h-2zM791 436h3v1h-3zM794 437h2v1h-2zM796 438h5v1h-5zM801 439h11v1h-11zM812 438h3v1h-3zM815 437h2v1h-2zM817 436h3v1h-3zM820 435h3v1h-3zM823 434h2v1h-2zM825 433h3v1h-3zM828 432h3v1h-3zM831 431h3v1h-3zM834 430h3v1h-3zM837 429h5v1h-5zM842 428h10v1h-10zM852 427h12v1h-12zM864 428h9v1h-9zM873 429h10v1h-10zM883 430h14v1h-14zM897 429h17v1h-17zM914 428h29v1h-29zM943 427h8v1h-8zM951 426h17v1h-17zM968 427h6v1h-6zM974 428h6v1h-6zM980 429h4v1h-4zM984 430h4v1h-4zM988 431h4v1h-4zM992 432h4v1h-4zM996 433h5v1h-5zM1001 434h4v1h-4zM1005 435h5v1h-5zM1010 436h5v1h-5zM1015 437h5v1h-5zM1020 438h6v1h-6zM1026 439h7v1h-7zM1033 440h2v1h-2zM1035 441h2v1h-2z" fill="#ff0000"/></g>
<line x1="6" y1="503.5" x2="1305" y2="503.5" stroke="#c0c0c0" stroke-width="1" stroke-dasharray="3 3"/>
<line x1="6" y1="531.5" x2="1305" y2="531.5" stroke="#c0c0c0" stroke-width="1" stroke-dasharray="3 3"/>
<g shape-rendering="crispEdges"><path d="M5 511h1v1h-1zM6 512h3v1h-3zM9 513h2v1h-2zM11 512h3v1h-3zM14 511h3v1h-3zM17 510h2v1h-2zM19 509h2v1h-2zM21 508h2v1h-2zM23 507h6v1h-6zM29 508h9v1h-9zM38 509h2v1h-2zM40 510h3v1h-3zM43 509h5v1h-5zM48 508h5v1h-5zM53 507h2v1h-2zM55 506h3v1h-3zM58 507h1v1h-1zM59 508h2v1h-2zM61 509h1v1h-1zM62 510h1v1h-1zM63 511h2v1h-2zM65 510h2v1h-2zM67 509h3v1h-3zM70 508h2v1h-2zM72 507h1v1h-1zM73 508h1v2h-1zM74 510h1v2h-1zM75 512h1v2h-1zM76 514h1v2h-1zM77 516h1v2h-1zM78 518h1v2h-1zM79 520h1v2h-1zM80 522h1v2h-1zM81 524h1v1h-1zM82 525h1v1h-1zM83 526h1v1h-1zM84 527h1v1h-1zM85 528h1v1h-1zM86 529h1v1h-1zM87 530h1v1h-1zM88 531h1v1h-1zM89 532h1v1h-1zM90 533h1v1h-1zM91 534h1v1h-1zM92 535h1v1h-1zM93 534h1v1h-1zM94 533h1v1h-1zM95 531h1v2h-1zM96 530h1v1h-1zM97 529h2v1h-2zM99 528h2v1h-2zM101 529h1v2h-1zM102 531h1v1h-1zM103 532h1v1h-1zM104 533h1v1h-1zM105 534h1v1h-1zM106 535h1v1h-1zM107 536h1v1h-1zM108 537h1v1h-1zM109 535h1v3h-1zM110 533h1v2h-1zM111 531h1v2h-1zM112 528h1v3h-1zM113 526h1v2h-1zM114 526h1v1h-1zM115 527h2v1h-2zM117 526h1v1h-1zM118 525h1v1h-1zM119 524h1v1h-1zM120 522h1v2h-1zM121 521h2v1h-2zM123 520h2v1h-2zM125 519h6v1h-6zM131 520h3v1h-3zM134 521h2v1h-2zM136 522h3v1h-3zM139 521h2v1h-2zM141 520h3v1h-3zM144 519h11v1h-11zM155 520h4v1h-4zM159 519h5v1h-5zM164 518h4v1h-4zM168 517h5v1h-5zM173 518h1v1h-1zM174 519h2v1h-2zM176 520h1v1h-1zM177 521h1v1h-1zM178 520h2v1h-2zM180 519h3v1h-3zM183 520h2v1h-2zM185 519h2v1h-2zM187 518h2v1h-2zM189 517h1v1h-1zM190 516h2v1h-2zM192 515h3v1h-3zM195 516h2v1h-2zM197 517h1v1h-1zM198 516h3v1h-3zM201 515h3v1h-3zM204 514h2v1h-2zM206 513h2v1h-2zM208 512h3v1h-3zM211 511h6v1h-6zM217 510h3v1h-3zM220 509h2v1h-2zM222 510h2v1h-2zM224 511h2v1h-2zM226 510h2v1h-2zM228 509h4v1h-4zM232 510h1v1h-1zM233 509h2v1h-2zM235 508h2v1h-2zM237 507h1v1h-1zM238 506h2v1h-2zM240 505h17v1h-17zM257 506h1v1h-1zM258 507h1v3h-1zM259 510h1v2h-1zM260 512h1v2h-1zM261 514h1v2h-1zM262 515h1v1h-1zM263 514h2v1h-2zM265 513h2v1h-2zM267 512h2v1h-2zM269 513h2v1h-2zM271 514h3v1h-3zM274 515h5v1h-5zM279 516h6v1h-6zM285 515h11v1h-11zM296 516h2v1h-2zM298 517h2v1h-2zM300 518h2v1h-2zM302 519h4v1h-4zM306 520h1v1h-1zM307 521h1v1h-1zM308 522h1v1h-1zM309 523h1v1h-1zM310 524h1v1h-1zM311 525h2v1h-2zM313 524h2v1h-2zM315 523h2v1h-2zM317 522h4v1h-4zM321 523h1v1h-1zM322 524h1v2h-1zM323 526h1v2h-1zM324 528h1v2h-1zM325 527h1v2h-1zM326 526h1v1h-1zM327 525h1v1h-1zM328 523h1v2h-1zM329 523h1v1h-1zM330 522h2v1h-2zM332 521h1v1h-1zM333 520h1v1h-1zM334 519h1v1h-1zM335 518h1v1h-1zM336 517h1v1h-1zM337 516h1v1h-1zM338 515h3v1h-3zM341 516h1v2h-1zM342 518h1v1h-1zM343 519h1v2h-1zM344 521h1v2h-1zM345 523h3v1h-3zM348 524h1v1h-1zM349 523h1v1h-1zM350 522h1v1h-1zM351 521h1v1h-1zM352 520h1v1h-1zM353 519h2v1h-2zM355 518h3v1h-3zM358 517h3v1h-3zM361 516h4v1h-4zM365 517h2v1h-2zM367 518h2v1h-2zM369 519h5v1h-5zM374 518h2v1h-2zM376 517h3v1h-3zM379 516h5v1h-5zM384 515h9v1h-9zM393 514h3v1h-3zM396 513h9v1h-9zM405 514h2v1h-2zM407 515h1v1h-1zM408 516h1v1h-1zM409 517h2v1h-2zM411 518h1v1h-1zM412 519h1v1h-1zM413 520h2v1h-2zM415 521h1v1h-1zM416 522h1v1h-1zM417 523h2v1h-2zM419 524h1v1h-1zM420 525h1v1h-1zM421 524h2v1h-2zM423 523h1v1h-1zM424 522h3v1h-3zM427 523h2v1h-2zM429 524h1v1h-1zM430 523h2v1h-2zM432 522h2v1h-2zM434 523h3v1h-3zM437 522h2v1h-2zM439 521h2v1h-2zM441 520h2v1h-2zM443 521h4v1h-4zM447 520h1v1h-1zM448 519h2v1h-2zM450 518h2v1h-2zM452 517h1v1h-1zM453 516h1v1h-1zM454 515h2v1h-2zM456 514h1v1h-1zM457 513h1v1h-1zM458 512h1v1h-1zM459 511h1v1h-1zM460 510h2v1h-2zM462 511h3v1h-3zM465 510h2v1h-2zM467 509h1v1h-1zM468 508h1v1h-1zM469 509h1v1h-1zM470 510h1v1h-1zM471 511h1v1h-1zM472 512h1v2h-1zM473 514h1v1h-1zM474 515h1v1h-1zM475 516h1v1h-1zM476 517h1v1h-1zM477 518h1v1h-1zM478 517h1v1h-1zM479 516h2v1h-2zM481 515h3v1h-3zM484 516h2v1h-2zM486 515h1v1h-1zM487 514h2v1h-2zM489 513h2v1h-2zM491 512h1v1h-1zM492 511h7v1h-7zM499 512h1v1h-1zM500 511h2v1h-2zM502 510h1v1h-1zM503 511h1v1h-1zM504 512h2v1h-2zM506 511h1v1h-1zM507 510h1v1h-1zM508 509h1v1h-1zM509 508h1v1h-1zM510 507h1v1h-1zM511 506h2v1h-2zM513 507h1v1h-1zM514 508h2v1h-2zM516 509h1v1h-1zM517 510h7v1h-7zM524 509h4v1h-4zM528 508h5v1h-5zM533 509h1v3h-1zM534 512h1v3h-1zM535 515h1v3h-1zM536 518h1v3h-1zM537 521h1v1h-1zM538 520h2v1h-2zM540 519h3v1h-3zM543 520h3v1h-3zM546 521h2v1h-2zM548 520h2v1h-2zM550 519h2v1h-2zM552 518h3v1h-3zM555 519h2v1h-2zM557 520h2v1h-2zM559 521h2v1h-2zM561 522h1v1h-1zM562 521h4v1h-4zM566 520h1v1h-1zM567 519h1v1h-1zM568 518h2v1h-2zM570 517h1v1h-1zM571 516h2v1h-2zM573 515h3v1h-3zM576 514h2v1h-2zM578 513h1v1h-1zM579 511h1v2h-1zM580 509h1v2h-1zM581 508h1v1h-1zM582 509h1v2h-1zM583 511h1v1h-1zM584 512h1v1h-1zM585 513h1v1h-1zM586 514h1v3h-1zM587 517h1v3h-1zM588 520h1v3h-1zM589 523h1v2h-1zM590 525h1v3h-1zM591 528h1v3h-1zM592 531h1v3h-1zM593 534h1v1h-1zM594 533h1v1h-1zM595 532h1v1h-1zM596 531h2v1h-2zM598 532h2v1h-2zM600 533h3v1h-3zM603 534h4v1h-4zM607 535h2v1h-2zM609 536h2v1h-2zM611 537h2v1h-2zM613 538h5v1h-5zM618 539h3v1h-3zM621 538h1v1h-1zM622 537h2v1h-2zM624 536h1v1h-1zM625 535h5v1h-5zM630 533h1v2h-1zM631 532h1v1h-1zM632 531h1v1h-1zM633 530h1v1h-1zM634 528h1v2h-1zM635 527h1v1h-1zM636 526h1v1h-1zM637 525h2v1h-2zM639 526h3v1h-3zM642 527h5v1h-5zM647 526h6v1h-6zM653 525h1v1h-1zM654 524h1v1h-1zM655 523h1v1h-1zM656 522h1v1h-1zM657 521h1v1h-1zM658 519h1v2h-1zM659 518h1v1h-1zM660 517h1v1h-1zM661 516h2v1h-2zM663 515h2v1h-2zM665 514h3v1h-3zM668 513h2v1h-2zM670 514h1v1h-1zM671 515h2v1h-2zM673 516h5v1h-5zM678 517h1v1h-1zM679 518h1v1h-1zM680 519h2v1h-2zM682 520h1v1h-1zM683 521h1v1h-1zM684 522h1v1h-1zM685 521h1v1h-1zM686 519h1v2h-1zM687 518h1v1h-1zM688 517h1v1h-1zM689 516h2v1h-2zM691 515h4v1h-4zM695 516h2v1h-2zM697 517h8v1h-8zM705 516h1v1h-1zM706 515h1v1h-1zM707 513h1v2h-1zM708 512h1v1h-1zM709 511h1v1h-1zM710 510h1v1h-1zM711 509h2v1h-2zM713 508h2v1h-2zM715 507h4v1h-4zM719 506h4v1h-4zM723 507h2v1h-2zM725 508h3v1h-3zM728 509h1v1h-1zM729 510h1v2h-1zM730 512h1v1h-1zM731 513h1v1h-1zM732 514h1v1h-1zM733 515h1v1h-1zM734 514h4v1h-4zM738 515h2v1h-2zM740 516h1v1h-1zM741 517h1v1h-1zM742 516h1v1h-1zM743 515h2v1h-2zM745 514h4v1h-4zM749 515h1v1h-1zM750 516h1v1h-1zM751 517h1v1h-1zM752 518h1v1h-1zM753 519h2v1h-2zM755 520h10v1h-10zM765 521h1v1h-1zM766 522h1v1h-1zM767 523h1v1h-1zM768 524h1v1h-1zM769 525h13v1h-13zM782 526h2v1h-2zM784 527h1v1h-1zM785 526h1v2h-1zM786 524h1v2h-1zM787 522h1v2h-1zM788 520h1v2h-1zM789 520h1v1h-1zM790 519h5v1h-5zM795 520h3v1h-3zM798 519h2v1h-2zM800 518h1v1h-1zM801 517h2v1h-2zM803 516h2v1h-2zM805 515h1v1h-1zM806 514h1v1h-1zM807 513h1v1h-1zM808 512h1v1h-1zM809 511h1v1h-1zM810 510h10v1h-10zM820 511h1v1h-1zM821 512h2v1h-2zM823 513h2v1h-2zM825 514h3v1h-3zM828 513h13v1h-13zM841 514h4v1h-4zM845 515h1v1h-1zM846 516h1v1h-1zM847 517h2v1h-2zM849 518h1v1h-1zM850 517h1v1h-1zM851 516h1v1h-1zM852 515h2v1h-2zM854 516h1v1h-1zM855 517h1v1h-1zM856 518h1v1h-1zM857 517h1v1h-1zM858 516h1v1h-1zM859 515h1v1h-1zM860 514h1v1h-1zM861 515h2v1h-2zM863 516h1v1h-1zM864 517h2v1h-2zM866 518h2v1h-2zM868 519h2v1h-2zM870 520h4v1h-4zM874 519h1v1h-1zM875 518h1v1h-1zM876 517h1v1h-1zM877 516h2v1h-2zM879 515h5v1h-5zM884 516h2v1h-2zM886 515h1v1h-1zM887 513h1v2h-1zM888 512h5v1h-5zM893 511h2v1h-2zM895 510h1v1h-1zM896 509h2v1h-2zM898 510h1v1h-1zM899 511h1v1h-1zM900 512h1v1h-1zM901 513h1v1h-1zM902 514h1v2h-1zM903 516h1v2h-1zM904 518h1v2h-1zM905 520h1v1h-1zM906 518h1v2h-1zM907 517h1v1h-1zM908 516h1v1h-1zM909 515h1v1h-1zM910 516h1v1h-1zM911 517h2v1h-2zM913 518h3v1h-3zM916 517h6v1h-6zM922 516h1v1h-1zM923 515h1v1h-1zM924 513h1v2h-1zM925 512h1v1h-1zM926 511h2v1h-2zM928 510h3v1h-3zM931 509h2v1h-2zM933 508h2v1h-2zM935 507h2v1h-2zM937 508h1v1h-1zM938 509h1v2h-1zM939 511h1v1h-1zM940 512h1v2h-1zM941 514h1v2h-1zM942 514h10v1h-10zM952 515h2v1h-2zM954 516h3v1h-3zM957 517h3v1h-3zM960 518h3v1h-3zM963 519h2v1h-2zM965 520h3v1h-3zM968 519h1v1h-1zM969 520h2v1h-2zM971 521h1v1h-1zM972 522h1v1h-1zM973 523h1v1h-1zM974 522h1v1h-1zM975 521h1v1h-1zM976 520h1v1h-1zM977 521h1v1h-1zM978 522h1v1h-1zM979 523h1v1h-1zM980 524h1v1h-1zM981 523h1v1h-1zM982 522h1v1h-1zM983 521h1v1h-1zM984 519h1v2h-1zM985 519h5v1h-5zM990 518h3v1h-3zM993 517h4v1h-4zM997 518h1v2h-1zM998 520h1v2h-1zM999 522h1v1h-1zM1000 523h1v2h-1zM1001 525h1v1h-1zM1002 524h1v1h-1zM1003 523h1v1h-1zM1004 522h1v1h-1zM1005 523h1v1h-1zM1006 524h1v1h-1zM1007 525h2v1h-2zM1009 526h4v1h-4zM1013 527h3v1h-3zM1016 528h2v1h-2zM1018 529h1v1h-1zM1019 528h2v1h-2zM1021 527h1v1h-1zM1022 525h1v2h-1zM1023 524h1v1h-1zM1024 522h1v2h-1zM1025 520h1v2h-1zM1026 520h2v1h-2zM1028 519h4v1h-4zM1032 520h5v1h-5z" fill="#1e90ff"/></g>
</svg>

<!-- title -->
<svg style="position:absolute;left:8px;top:38px" width="8" height="4"><path d="M0 4 L4 0 L8 4Z" fill="#000"/></svg>
<div class="lab" id="title" style="left:20px;top:34px">USDCNH,H4&nbsp; 6.87971 6.88084 6.87856 6.88010</div>
<div class="lab" id="macdt" style="left:9.5px;top:414px">MACD(12,26,9) -0.005176 -0.005380</div>
<div class="lab" id="rsit" style="left:9px;top:485px">RSI(14) 45.2131</div>

<!-- one click panel -->
<div style="left:7px;top:49px;width:222px;height:68px;background:#fff"></div>
<div style="left:8px;top:51px;width:52px;height:25px;background:linear-gradient(#fa5454,#e23030);border:1px solid #b80000;border-bottom:none"></div>
<div style="left:175px;top:51px;width:52px;height:25px;background:linear-gradient(#fa5454,#e23030);border:1px solid #b80000;border-bottom:none"></div>
<div style="left:8px;top:75px;width:109px;height:40px;background:linear-gradient(#e03030,#b00000);border:1px solid #b40000;border-top:none"></div>
<div style="left:119px;top:75px;width:108px;height:40px;background:linear-gradient(#e03030,#b00000);border:1px solid #b40000;border-top:none"></div>
<div style="left:59px;top:75px;width:58px;height:1px;background:#c01010"></div>
<div style="left:119px;top:75px;width:57px;height:1px;background:#c01010"></div>
<div style="left:12px;top:74px;width:44px;height:1px;background:#a80000"></div>
<div style="left:12px;top:75px;width:44px;height:1px;background:#f06060"></div>
<div style="left:179px;top:74px;width:44px;height:1px;background:#a80000"></div>
<div style="left:179px;top:75px;width:44px;height:1px;background:#f06060"></div>
<div style="left:60px;top:51px;width:115px;height:24px;background:#fff"></div>
<div style="left:62px;top:51px;width:111px;height:22px;background:#fff;border:1px solid #a9a9b1"></div>
<div style="left:63px;top:52px;width:21px;height:20px;background:linear-gradient(#eeeeee 0,#dedede 48%,#d2d2d2 52%,#c6c6c6 100%);border:1px solid #f6f6f6;border-right:1px solid #a9a9b1"></div>
<div style="left:151px;top:52px;width:21px;height:20px;background:linear-gradient(#eeeeee 0,#dedede 48%,#d2d2d2 52%,#c6c6c6 100%);border:1px solid #f6f6f6;border-left:1px solid #a9a9b1"></div>
<svg style="position:absolute;left:70px;top:60px" width="5" height="3" shape-rendering="crispEdges"><path d="M0 0h5v1h-5zM1 1h3v1h-3zM2 2h1v1h-1z" fill="#4d5cc4"/></svg>
<svg style="position:absolute;left:159px;top:60px" width="5" height="3" shape-rendering="crispEdges"><path d="M2 0h1v1h-1zM1 1h3v1h-3zM0 2h5v1h-5z" fill="#4d5cc4"/></svg>
<div id="vol" style="left:124px;top:55px;font-size:12.3px;line-height:14px;color:#000;letter-spacing:-0.3px">0.01</div>
<div id="sell" style="left:19.3px;top:56px;font-size:12px;line-height:14px;color:#fff;transform:scaleX(0.93);transform-origin:0 0">SELL</div>
<div id="buy" style="left:187.4px;top:56px;font-size:12px;line-height:14px;color:#fff;transform:scaleX(0.99);transform-origin:0 0">BUY</div>
<div id="s1" style="left:27px;top:95px;font-size:13px;line-height:14px;color:#fff;font-weight:bold;letter-spacing:-0.2px">6.88</div>
<svg id="big" style="position:absolute;left:8px;top:75px" width="219" height="40" viewBox="0 0 219 40">
<defs><linearGradient id="pg" x1="0" y1="0" x2="0" y2="40" gradientUnits="userSpaceOnUse"><stop offset="0" stop-color="#e03030"/><stop offset="1" stop-color="#b00000"/></linearGradient></defs>
<text x="46.3" y="31.3" font-family="Liberation Sans, sans-serif" font-size="35.6" fill="#fff" stroke="url(#pg)" stroke-width="0.6" letter-spacing="-1.6">01</text>
<text x="157.8" y="31.3" font-family="Liberation Sans, sans-serif" font-size="35.6" fill="#fff" stroke="url(#pg)" stroke-width="0.6" letter-spacing="-1.6">34</text>
</svg>
<div id="s3" style="left:94.5px;top:80px;font-size:12.5px;line-height:12px;color:#fff;font-weight:bold">0</div>
<div id="b1" style="left:137px;top:95px;font-size:13px;line-height:14px;color:#fff;font-weight:bold;letter-spacing:-0.2px">6.88</div>
<div id="b3" style="left:205.5px;top:80px;font-size:12.5px;line-height:12px;color:#fff;font-weight:bold">4</div>

<!-- right axis -->
<div class="tk" style="top:42px"></div><div class="yl" style="top:37px">6.98300</div>
<div class="tk" style="top:75px"></div><div class="yl" style="top:70px">6.96820</div>
<div class="tk" style="top:108px"></div><div class="yl" style="top:103px">6.95380</div>
<div class="tk" style="top:141px"></div><div class="yl" style="top:136px">6.93900</div>
<div class="tk" style="top:174px"></div><div class="yl" style="top:169px">6.92460</div>
<div class="tk" style="top:207px"></div><div class="yl" style="top:202px">6.90980</div>
<div class="tk" style="top:240px"></div><div class="yl" style="top:235px">6.89500</div>
<div class="tk" style="top:306px"></div><div class="yl" style="top:301px">6.86580</div>
<div class="tk" style="top:339px"></div><div class="yl" style="top:334px">6.85140</div>
<div class="tk" style="top:372px"></div><div class="yl" style="top:367px">6.83660</div>
<div class="tk" style="top:405px"></div><div class="yl" style="top:400px">6.82220</div>

<div style="left:1306px;top:273px;width:1px;height:1px;background:#000"></div>
<div style="left:1307px;top:269px;width:41px;height:11px;background:#000"></div>
<div class="yl" style="top:269px;color:#fff">6.88010</div>
<div class="tk s" style="top:412px"></div><div class="yl2" style="top:412px">0.0119</div>
<div class="tk s" style="top:432px"></div><div class="yl2" style="top:427px">0.00</div>
<div class="tk s" style="top:478px"></div><div class="yl2" style="top:467px">-0.027754</div>
<div class="tk s" style="top:483px"></div><div class="yl2" style="top:483px">100</div>
<div class="yl2" style="top:498px">70</div>
<div class="yl2" style="top:526px">30</div>
<div class="tk s" style="top:551px"></div><div class="yl2" style="top:540px">0</div>

<!-- dates -->
<div class="dt" style="left:5px"></div><div class="dlab" style="left:4px">29 Oct 2018</div>
<div class="dt" style="left:69px"></div><div class="dlab" style="left:68px">1 Nov 00:00</div>
<div class="dt" style="left:133px"></div><div class="dlab" style="left:132px">5 Nov 20:00</div>
<div class="dt" style="left:197px"></div><div class="dlab" style="left:196px">8 Nov 12:00</div>
<div class="dt" style="left:261px"></div><div class="dlab" style="left:260px">13 Nov 08:00</div>
<div class="dt" style="left:325px"></div><div class="dlab" style="left:324px">16 Nov 00:00</div>
<div class="dt" style="left:389px"></div><div class="dlab" style="left:388px">20 Nov 16:00</div>
<div class="dt" style="left:453px"></div><div class="dlab" style="left:452px">23 Nov 08:00</div>
<div class="dt" style="left:517px"></div><div class="dlab" style="left:516px">28 Nov 04:00</div>
<div class="dt" style="left:581px"></div><div class="dlab" style="left:580px">30 Nov 20:00</div>
<div class="dt" style="left:645px"></div><div class="dlab" style="left:644px">5 Dec 16:00</div>
<div class="dt" style="left:709px"></div><div class="dlab" style="left:708px">10 Dec 08:00</div>
<div class="dt" style="left:773px"></div><div class="dlab" style="left:772px">13 Dec 00:00</div>
<div class="dt" style="left:837px"></div><div class="dlab" style="left:836px">17 Dec 20:00</div>
<div class="dt" style="left:901px"></div><div class="dlab" style="left:900px">20 Dec 12:00</div>
<div class="dt" style="left:965px"></div><div class="dlab" style="left:964px">26 Dec 04:00</div>
<div class="dt" style="left:1029px"></div><div class="dlab" style="left:1028px">28 Dec 20:00</div>

<!-- tabs -->
<div style="left:0;top:573px;width:1349px;height:1px;background:#e3e3e3"></div>
<div style="left:0;top:575px;width:1349px;height:1px;background:#000"></div>
<div style="left:0;top:576px;width:1349px;height:20px;background:#f0f0f0"></div>
<div style="left:0;top:596px;width:1349px;height:3px;background:#fafafa"></div>
<div style="left:0;top:599px;width:1349px;height:1px;background:#a0a0a0"></div>
<div style="left:0;top:576px;width:1px;height:18px;background:#a0a0a0"></div>
<div style="left:1px;top:576px;width:1px;height:18px;background:#696969"></div>
<div style="left:394px;top:575px;width:92px;height:19px;background:#fff;border:1px solid #000;border-top:none"></div>
<div class="tab" style="left:18px">EURUSD,Daily</div><div class="tsep" style="left:110px"></div><div class="tab" style="left:121px">AUDUSD,H4</div><div class="tsep" style="left:202px"></div><div class="tab" style="left:212px">USDCHF,H4</div><div class="tsep" style="left:290px"></div><div class="tab" style="left:300px">USDCAD,Daily</div><div class="tab" style="left:496px">USDJPY,H4</div><div class="tsep" style="left:570px"></div><div class="tab" style="left:581px">XAUUSD,Daily</div><div class="tsep" style="left:674px"></div><div class="tab" style="left:685px">GBPUSD,M15</div><div class="tsep" style="left:775px"></div><div class="tab" style="left:785px">SP500,H1</div><div class="tsep" style="left:851px"></div>

<div class="tab" style="left:405px;color:#000">USDCNH,H4</div>
<svg style="position:absolute;left:1320px;top:581px" width="5" height="7"><path d="M4.5 0 L4.5 7 L0.5 3.5Z" fill="#9a9a9a"/></svg>
<svg style="position:absolute;left:1339px;top:581px" width="5" height="7"><path d="M0.5 0 L0.5 7 L4.5 3.5Z" fill="#9a9a9a"/></svg>
</body></html>
